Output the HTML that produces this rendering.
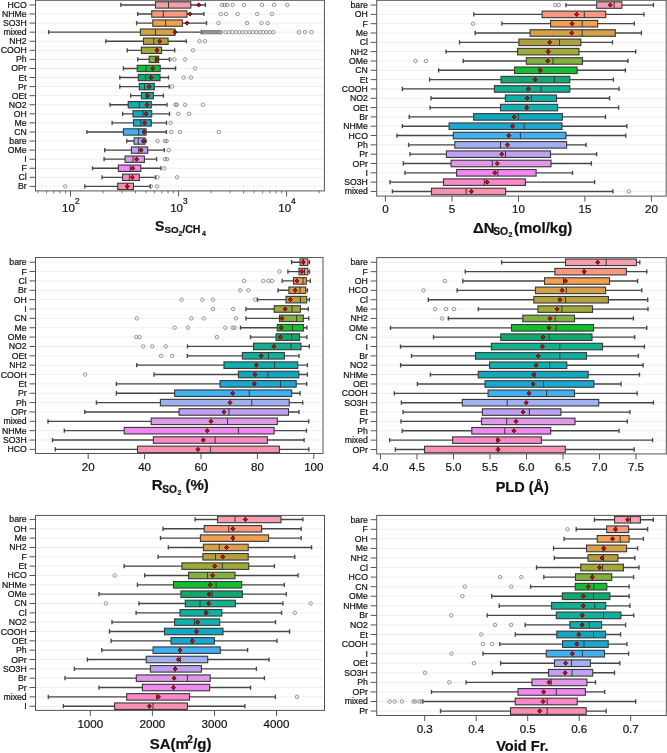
<!DOCTYPE html>
<html><head><meta charset="utf-8"><style>
html,body{margin:0;padding:0;background:#fff;width:667px;height:753px;overflow:hidden}
svg{display:block;will-change:transform}
text{font-family:"Liberation Sans",sans-serif;stroke:#1a1a1a;stroke-width:0.22px}
</style></head><body>
<svg width="667" height="753" viewBox="0 0 667 753">
<rect width="667" height="753" fill="#fff"/>
<line x1="35.5" y1="4.95" x2="324.4" y2="4.95" stroke="#ebebeb" stroke-width="0.8"/>
<line x1="35.5" y1="14.02" x2="324.4" y2="14.02" stroke="#ebebeb" stroke-width="0.8"/>
<line x1="35.5" y1="23.1" x2="324.4" y2="23.1" stroke="#ebebeb" stroke-width="0.8"/>
<line x1="35.5" y1="32.17" x2="324.4" y2="32.17" stroke="#ebebeb" stroke-width="0.8"/>
<line x1="35.5" y1="41.24" x2="324.4" y2="41.24" stroke="#ebebeb" stroke-width="0.8"/>
<line x1="35.5" y1="50.31" x2="324.4" y2="50.31" stroke="#ebebeb" stroke-width="0.8"/>
<line x1="35.5" y1="59.39" x2="324.4" y2="59.39" stroke="#ebebeb" stroke-width="0.8"/>
<line x1="35.5" y1="68.46" x2="324.4" y2="68.46" stroke="#ebebeb" stroke-width="0.8"/>
<line x1="35.5" y1="77.53" x2="324.4" y2="77.53" stroke="#ebebeb" stroke-width="0.8"/>
<line x1="35.5" y1="86.6" x2="324.4" y2="86.6" stroke="#ebebeb" stroke-width="0.8"/>
<line x1="35.5" y1="95.68" x2="324.4" y2="95.68" stroke="#ebebeb" stroke-width="0.8"/>
<line x1="35.5" y1="104.75" x2="324.4" y2="104.75" stroke="#ebebeb" stroke-width="0.8"/>
<line x1="35.5" y1="113.82" x2="324.4" y2="113.82" stroke="#ebebeb" stroke-width="0.8"/>
<line x1="35.5" y1="122.89" x2="324.4" y2="122.89" stroke="#ebebeb" stroke-width="0.8"/>
<line x1="35.5" y1="131.97" x2="324.4" y2="131.97" stroke="#ebebeb" stroke-width="0.8"/>
<line x1="35.5" y1="141.04" x2="324.4" y2="141.04" stroke="#ebebeb" stroke-width="0.8"/>
<line x1="35.5" y1="150.11" x2="324.4" y2="150.11" stroke="#ebebeb" stroke-width="0.8"/>
<line x1="35.5" y1="159.18" x2="324.4" y2="159.18" stroke="#ebebeb" stroke-width="0.8"/>
<line x1="35.5" y1="168.25" x2="324.4" y2="168.25" stroke="#ebebeb" stroke-width="0.8"/>
<line x1="35.5" y1="177.33" x2="324.4" y2="177.33" stroke="#ebebeb" stroke-width="0.8"/>
<line x1="35.5" y1="186.4" x2="324.4" y2="186.4" stroke="#ebebeb" stroke-width="0.8"/>
<path d="M120.9 4.95H155.5M190.8 4.95H205.4M120.9 2.86V7.04M205.4 2.86V7.04" stroke="#474747" stroke-width="1.35" fill="none"/>
<rect x="155.5" y="1.77" width="35.3" height="6.35" fill="#f59eae" stroke="#383838" stroke-width="1.1"/>
<line x1="168.5" y1="1.77" x2="168.5" y2="8.13" stroke="#383838" stroke-width="1.0"/>
<circle cx="221.9" cy="4.95" r="1.75" fill="none" stroke="#7c7c7c" stroke-width="0.8"/>
<circle cx="224.5" cy="4.95" r="1.75" fill="none" stroke="#7c7c7c" stroke-width="0.8"/>
<circle cx="227.1" cy="4.95" r="1.75" fill="none" stroke="#7c7c7c" stroke-width="0.8"/>
<circle cx="232.6" cy="4.95" r="1.75" fill="none" stroke="#7c7c7c" stroke-width="0.8"/>
<circle cx="244.1" cy="4.95" r="1.75" fill="none" stroke="#7c7c7c" stroke-width="0.8"/>
<circle cx="262" cy="4.95" r="1.75" fill="none" stroke="#7c7c7c" stroke-width="0.8"/>
<circle cx="274.1" cy="4.95" r="1.75" fill="none" stroke="#7c7c7c" stroke-width="0.8"/>
<circle cx="287.2" cy="4.95" r="1.75" fill="none" stroke="#7c7c7c" stroke-width="0.8"/>
<path d="M196.7 4.95L198.7 2.85L200.7 4.95L198.7 7.05Z" fill="#f00000" stroke="#1a0000" stroke-width="0.8"/>
<path d="M137.7 14.02H151.7M187 14.02H203.9M137.7 11.93V16.11M203.9 11.93V16.11" stroke="#474747" stroke-width="1.35" fill="none"/>
<rect x="151.7" y="10.85" width="35.3" height="6.35" fill="#f89880" stroke="#383838" stroke-width="1.1"/>
<line x1="163.3" y1="10.85" x2="163.3" y2="17.2" stroke="#383838" stroke-width="1.0"/>
<circle cx="220.7" cy="14.02" r="1.75" fill="none" stroke="#7c7c7c" stroke-width="0.8"/>
<circle cx="226.1" cy="14.02" r="1.75" fill="none" stroke="#7c7c7c" stroke-width="0.8"/>
<circle cx="237.6" cy="14.02" r="1.75" fill="none" stroke="#7c7c7c" stroke-width="0.8"/>
<circle cx="257.2" cy="14.02" r="1.75" fill="none" stroke="#7c7c7c" stroke-width="0.8"/>
<circle cx="272" cy="14.02" r="1.75" fill="none" stroke="#7c7c7c" stroke-width="0.8"/>
<path d="M188 14.02L190 11.92L192 14.02L190 16.12Z" fill="#f00000" stroke="#1a0000" stroke-width="0.8"/>
<path d="M136.6 23.1H152.8M182.4 23.1H206.5M136.6 21.01V25.18M206.5 21.01V25.18" stroke="#474747" stroke-width="1.35" fill="none"/>
<rect x="152.8" y="19.92" width="29.6" height="6.35" fill="#f0a050" stroke="#383838" stroke-width="1.1"/>
<line x1="165.6" y1="19.92" x2="165.6" y2="26.27" stroke="#383838" stroke-width="1.0"/>
<circle cx="218.5" cy="23.1" r="1.75" fill="none" stroke="#7c7c7c" stroke-width="0.8"/>
<circle cx="247" cy="23.1" r="1.75" fill="none" stroke="#7c7c7c" stroke-width="0.8"/>
<circle cx="261.5" cy="23.1" r="1.75" fill="none" stroke="#7c7c7c" stroke-width="0.8"/>
<circle cx="267.6" cy="23.1" r="1.75" fill="none" stroke="#7c7c7c" stroke-width="0.8"/>
<path d="M185.1 23.1L187.1 21L189.1 23.1L187.1 25.2Z" fill="#f00000" stroke="#1a0000" stroke-width="0.8"/>
<path d="M48.6 32.17H140.4M175 32.17H201.7M48.6 30.08V34.26M201.7 30.08V34.26" stroke="#474747" stroke-width="1.35" fill="none"/>
<rect x="140.4" y="28.99" width="34.6" height="6.35" fill="#d4a048" stroke="#383838" stroke-width="1.1"/>
<line x1="155.5" y1="28.99" x2="155.5" y2="35.34" stroke="#383838" stroke-width="1.0"/>
<circle cx="201.7" cy="32.17" r="1.75" fill="none" stroke="#7c7c7c" stroke-width="0.8"/>
<circle cx="203" cy="32.17" r="1.75" fill="none" stroke="#7c7c7c" stroke-width="0.8"/>
<circle cx="204.3" cy="32.17" r="1.75" fill="none" stroke="#7c7c7c" stroke-width="0.8"/>
<circle cx="205.6" cy="32.17" r="1.75" fill="none" stroke="#7c7c7c" stroke-width="0.8"/>
<circle cx="206.9" cy="32.17" r="1.75" fill="none" stroke="#7c7c7c" stroke-width="0.8"/>
<circle cx="208.2" cy="32.17" r="1.75" fill="none" stroke="#7c7c7c" stroke-width="0.8"/>
<circle cx="209.5" cy="32.17" r="1.75" fill="none" stroke="#7c7c7c" stroke-width="0.8"/>
<circle cx="210.8" cy="32.17" r="1.75" fill="none" stroke="#7c7c7c" stroke-width="0.8"/>
<circle cx="212.1" cy="32.17" r="1.75" fill="none" stroke="#7c7c7c" stroke-width="0.8"/>
<circle cx="213.4" cy="32.17" r="1.75" fill="none" stroke="#7c7c7c" stroke-width="0.8"/>
<circle cx="214.7" cy="32.17" r="1.75" fill="none" stroke="#7c7c7c" stroke-width="0.8"/>
<circle cx="216" cy="32.17" r="1.75" fill="none" stroke="#7c7c7c" stroke-width="0.8"/>
<circle cx="217.3" cy="32.17" r="1.75" fill="none" stroke="#7c7c7c" stroke-width="0.8"/>
<circle cx="218.6" cy="32.17" r="1.75" fill="none" stroke="#7c7c7c" stroke-width="0.8"/>
<circle cx="219.9" cy="32.17" r="1.75" fill="none" stroke="#7c7c7c" stroke-width="0.8"/>
<circle cx="221.2" cy="32.17" r="1.75" fill="none" stroke="#7c7c7c" stroke-width="0.8"/>
<circle cx="225.7" cy="32.17" r="1.75" fill="none" stroke="#7c7c7c" stroke-width="0.8"/>
<circle cx="229.1" cy="32.17" r="1.75" fill="none" stroke="#7c7c7c" stroke-width="0.8"/>
<circle cx="232.5" cy="32.17" r="1.75" fill="none" stroke="#7c7c7c" stroke-width="0.8"/>
<circle cx="235.9" cy="32.17" r="1.75" fill="none" stroke="#7c7c7c" stroke-width="0.8"/>
<circle cx="239.3" cy="32.17" r="1.75" fill="none" stroke="#7c7c7c" stroke-width="0.8"/>
<circle cx="242.7" cy="32.17" r="1.75" fill="none" stroke="#7c7c7c" stroke-width="0.8"/>
<circle cx="246.1" cy="32.17" r="1.75" fill="none" stroke="#7c7c7c" stroke-width="0.8"/>
<circle cx="249.5" cy="32.17" r="1.75" fill="none" stroke="#7c7c7c" stroke-width="0.8"/>
<circle cx="252.9" cy="32.17" r="1.75" fill="none" stroke="#7c7c7c" stroke-width="0.8"/>
<circle cx="256.3" cy="32.17" r="1.75" fill="none" stroke="#7c7c7c" stroke-width="0.8"/>
<circle cx="259.7" cy="32.17" r="1.75" fill="none" stroke="#7c7c7c" stroke-width="0.8"/>
<circle cx="263.1" cy="32.17" r="1.75" fill="none" stroke="#7c7c7c" stroke-width="0.8"/>
<circle cx="266.5" cy="32.17" r="1.75" fill="none" stroke="#7c7c7c" stroke-width="0.8"/>
<circle cx="269.9" cy="32.17" r="1.75" fill="none" stroke="#7c7c7c" stroke-width="0.8"/>
<circle cx="273.3" cy="32.17" r="1.75" fill="none" stroke="#7c7c7c" stroke-width="0.8"/>
<circle cx="298.9" cy="32.17" r="1.75" fill="none" stroke="#7c7c7c" stroke-width="0.8"/>
<circle cx="305" cy="32.17" r="1.75" fill="none" stroke="#7c7c7c" stroke-width="0.8"/>
<circle cx="311.5" cy="32.17" r="1.75" fill="none" stroke="#7c7c7c" stroke-width="0.8"/>
<path d="M173 32.17L175 30.07L177 32.17L175 34.27Z" fill="#f00000" stroke="#1a0000" stroke-width="0.8"/>
<path d="M105.8 41.24H143.5M168.1 41.24H186.3M105.8 39.15V43.33M186.3 39.15V43.33" stroke="#474747" stroke-width="1.35" fill="none"/>
<rect x="143.5" y="38.06" width="24.6" height="6.35" fill="#b0a040" stroke="#383838" stroke-width="1.1"/>
<line x1="153.8" y1="38.06" x2="153.8" y2="44.42" stroke="#383838" stroke-width="1.0"/>
<circle cx="199.5" cy="41.24" r="1.75" fill="none" stroke="#7c7c7c" stroke-width="0.8"/>
<circle cx="204.9" cy="41.24" r="1.75" fill="none" stroke="#7c7c7c" stroke-width="0.8"/>
<path d="M157.7 41.24L159.7 39.14L161.7 41.24L159.7 43.34Z" fill="#f00000" stroke="#1a0000" stroke-width="0.8"/>
<path d="M127.2 50.31H141.4M161.6 50.31H174.7M127.2 48.22V52.4M174.7 48.22V52.4" stroke="#474747" stroke-width="1.35" fill="none"/>
<rect x="141.4" y="47.14" width="20.2" height="6.35" fill="#a0a838" stroke="#383838" stroke-width="1.1"/>
<line x1="157" y1="47.14" x2="157" y2="53.49" stroke="#383838" stroke-width="1.0"/>
<circle cx="193" cy="50.31" r="1.75" fill="none" stroke="#7c7c7c" stroke-width="0.8"/>
<path d="M155 50.31L157 48.21L159 50.31L157 52.41Z" fill="#f00000" stroke="#1a0000" stroke-width="0.8"/>
<path d="M137.7 59.39H149.2M158.7 59.39H169.5M137.7 57.3V61.47M169.5 57.3V61.47" stroke="#474747" stroke-width="1.35" fill="none"/>
<rect x="149.2" y="56.21" width="9.5" height="6.35" fill="#80b040" stroke="#383838" stroke-width="1.1"/>
<line x1="155.5" y1="56.21" x2="155.5" y2="62.56" stroke="#383838" stroke-width="1.0"/>
<circle cx="170.1" cy="59.39" r="1.75" fill="none" stroke="#7c7c7c" stroke-width="0.8"/>
<circle cx="174.4" cy="59.39" r="1.75" fill="none" stroke="#7c7c7c" stroke-width="0.8"/>
<circle cx="185.2" cy="59.39" r="1.75" fill="none" stroke="#7c7c7c" stroke-width="0.8"/>
<path d="M155 59.39L157 57.29L159 59.39L157 61.49Z" fill="#f00000" stroke="#1a0000" stroke-width="0.8"/>
<path d="M123.4 68.46H137.2M160.2 68.46H175.6M123.4 66.37V70.55M175.6 66.37V70.55" stroke="#474747" stroke-width="1.35" fill="none"/>
<rect x="137.2" y="65.28" width="23" height="6.35" fill="#10c030" stroke="#383838" stroke-width="1.1"/>
<line x1="146" y1="65.28" x2="146" y2="71.63" stroke="#383838" stroke-width="1.0"/>
<circle cx="195.2" cy="68.46" r="1.75" fill="none" stroke="#7c7c7c" stroke-width="0.8"/>
<path d="M150.7 68.46L152.7 66.36L154.7 68.46L152.7 70.56Z" fill="#f00000" stroke="#1a0000" stroke-width="0.8"/>
<path d="M119.8 77.53H138.3M160 77.53H168.5M119.8 75.44V79.62M168.5 75.44V79.62" stroke="#474747" stroke-width="1.35" fill="none"/>
<rect x="138.3" y="74.35" width="21.7" height="6.35" fill="#10a870" stroke="#383838" stroke-width="1.1"/>
<line x1="145.6" y1="74.35" x2="145.6" y2="80.71" stroke="#383838" stroke-width="1.0"/>
<circle cx="183.6" cy="77.53" r="1.75" fill="none" stroke="#7c7c7c" stroke-width="0.8"/>
<circle cx="191" cy="77.53" r="1.75" fill="none" stroke="#7c7c7c" stroke-width="0.8"/>
<path d="M149 77.53L151 75.43L153 77.53L151 79.63Z" fill="#f00000" stroke="#1a0000" stroke-width="0.8"/>
<path d="M119.8 86.6H139.3M154.3 86.6H169.2M119.8 84.51V88.69M169.2 84.51V88.69" stroke="#474747" stroke-width="1.35" fill="none"/>
<rect x="139.3" y="83.43" width="15" height="6.35" fill="#10b090" stroke="#383838" stroke-width="1.1"/>
<line x1="144.6" y1="83.43" x2="144.6" y2="89.78" stroke="#383838" stroke-width="1.0"/>
<circle cx="172.1" cy="86.6" r="1.75" fill="none" stroke="#7c7c7c" stroke-width="0.8"/>
<path d="M147.2 86.6L149.2 84.5L151.2 86.6L149.2 88.7Z" fill="#f00000" stroke="#1a0000" stroke-width="0.8"/>
<path d="M130.7 95.68H141.4M153.4 95.68H163.4M130.7 93.59V97.76M163.4 93.59V97.76" stroke="#474747" stroke-width="1.35" fill="none"/>
<rect x="141.4" y="92.5" width="12" height="6.35" fill="#10b0a0" stroke="#383838" stroke-width="1.1"/>
<line x1="146" y1="92.5" x2="146" y2="98.85" stroke="#383838" stroke-width="1.0"/>
<path d="M145.7 95.68L147.7 93.58L149.7 95.68L147.7 97.78Z" fill="#f00000" stroke="#1a0000" stroke-width="0.8"/>
<path d="M110 104.75H128.2M151.3 104.75H167M110 102.66V106.84M167 102.66V106.84" stroke="#474747" stroke-width="1.35" fill="none"/>
<rect x="128.2" y="101.57" width="23.1" height="6.35" fill="#10b0b0" stroke="#383838" stroke-width="1.1"/>
<line x1="139.3" y1="101.57" x2="139.3" y2="107.92" stroke="#383838" stroke-width="1.0"/>
<circle cx="175.5" cy="104.75" r="1.75" fill="none" stroke="#7c7c7c" stroke-width="0.8"/>
<circle cx="176.8" cy="104.75" r="1.75" fill="none" stroke="#7c7c7c" stroke-width="0.8"/>
<circle cx="185.1" cy="104.75" r="1.75" fill="none" stroke="#7c7c7c" stroke-width="0.8"/>
<circle cx="202.8" cy="104.75" r="1.75" fill="none" stroke="#7c7c7c" stroke-width="0.8"/>
<path d="M145.1 104.75L147.1 102.65L149.1 104.75L147.1 106.85Z" fill="#f00000" stroke="#1a0000" stroke-width="0.8"/>
<path d="M122.6 113.82H133M151.7 113.82H169.5M122.6 111.73V115.91M169.5 111.73V115.91" stroke="#474747" stroke-width="1.35" fill="none"/>
<rect x="133" y="110.64" width="18.7" height="6.35" fill="#10a8c0" stroke="#383838" stroke-width="1.1"/>
<line x1="142.9" y1="110.64" x2="142.9" y2="117" stroke="#383838" stroke-width="1.0"/>
<circle cx="178.3" cy="113.82" r="1.75" fill="none" stroke="#7c7c7c" stroke-width="0.8"/>
<circle cx="189.1" cy="113.82" r="1.75" fill="none" stroke="#7c7c7c" stroke-width="0.8"/>
<path d="M144.1 113.82L146.1 111.72L148.1 113.82L146.1 115.92Z" fill="#f00000" stroke="#1a0000" stroke-width="0.8"/>
<path d="M112.1 122.89H133.5M151.3 122.89H166.5M112.1 120.8V124.98M166.5 120.8V124.98" stroke="#474747" stroke-width="1.35" fill="none"/>
<rect x="133.5" y="119.72" width="17.8" height="6.35" fill="#18a8d0" stroke="#383838" stroke-width="1.1"/>
<line x1="140.8" y1="119.72" x2="140.8" y2="126.07" stroke="#383838" stroke-width="1.0"/>
<circle cx="170.6" cy="122.89" r="1.75" fill="none" stroke="#7c7c7c" stroke-width="0.8"/>
<path d="M142.6 122.89L144.6 120.79L146.6 122.89L144.6 124.99Z" fill="#f00000" stroke="#1a0000" stroke-width="0.8"/>
<path d="M86.9 131.97H123.4M146.1 131.97H166.4M86.9 129.88V134.05M166.4 129.88V134.05" stroke="#474747" stroke-width="1.35" fill="none"/>
<rect x="123.4" y="128.79" width="22.7" height="6.35" fill="#40b0f0" stroke="#383838" stroke-width="1.1"/>
<line x1="138.7" y1="128.79" x2="138.7" y2="135.14" stroke="#383838" stroke-width="1.0"/>
<circle cx="171.4" cy="131.97" r="1.75" fill="none" stroke="#7c7c7c" stroke-width="0.8"/>
<circle cx="180" cy="131.97" r="1.75" fill="none" stroke="#7c7c7c" stroke-width="0.8"/>
<circle cx="219" cy="131.97" r="1.75" fill="none" stroke="#7c7c7c" stroke-width="0.8"/>
<path d="M142 131.97L144 129.87L146 131.97L144 134.06Z" fill="#f00000" stroke="#1a0000" stroke-width="0.8"/>
<path d="M126.8 141.04H134.1M145 141.04H146.1M126.8 138.95V143.13M146.1 138.95V143.13" stroke="#474747" stroke-width="1.35" fill="none"/>
<rect x="134.1" y="137.86" width="10.9" height="6.35" fill="#a0b0f0" stroke="#383838" stroke-width="1.1"/>
<line x1="138.3" y1="137.86" x2="138.3" y2="144.21" stroke="#383838" stroke-width="1.0"/>
<circle cx="157.6" cy="141.04" r="1.75" fill="none" stroke="#7c7c7c" stroke-width="0.8"/>
<circle cx="165" cy="141.04" r="1.75" fill="none" stroke="#7c7c7c" stroke-width="0.8"/>
<circle cx="166.6" cy="141.04" r="1.75" fill="none" stroke="#7c7c7c" stroke-width="0.8"/>
<path d="M141.3 141.04L143.3 138.94L145.3 141.04L143.3 143.14Z" fill="#f00000" stroke="#1a0000" stroke-width="0.8"/>
<path d="M104.7 150.11H131.4M147.7 150.11H164.3M104.7 148.02V152.2M164.3 148.02V152.2" stroke="#474747" stroke-width="1.35" fill="none"/>
<rect x="131.4" y="146.93" width="16.3" height="6.35" fill="#c0a0f0" stroke="#383838" stroke-width="1.1"/>
<line x1="138.7" y1="146.93" x2="138.7" y2="153.29" stroke="#383838" stroke-width="1.0"/>
<circle cx="168.7" cy="150.11" r="1.75" fill="none" stroke="#7c7c7c" stroke-width="0.8"/>
<path d="M139.2 150.11L141.2 148.01L143.2 150.11L141.2 152.21Z" fill="#f00000" stroke="#1a0000" stroke-width="0.8"/>
<path d="M104.1 159.18H125.1M144.4 159.18H156.6M104.1 157.09V161.27M156.6 157.09V161.27" stroke="#474747" stroke-width="1.35" fill="none"/>
<rect x="125.1" y="156.01" width="19.3" height="6.35" fill="#e098e8" stroke="#383838" stroke-width="1.1"/>
<line x1="133" y1="156.01" x2="133" y2="162.36" stroke="#383838" stroke-width="1.0"/>
<circle cx="165" cy="159.18" r="1.75" fill="none" stroke="#7c7c7c" stroke-width="0.8"/>
<circle cx="167.1" cy="159.18" r="1.75" fill="none" stroke="#7c7c7c" stroke-width="0.8"/>
<path d="M134.6 159.18L136.6 157.08L138.6 159.18L136.6 161.28Z" fill="#f00000" stroke="#1a0000" stroke-width="0.8"/>
<path d="M92.5 168.25H118.4M140.8 168.25H160.8M92.5 166.17V170.34M160.8 166.17V170.34" stroke="#474747" stroke-width="1.35" fill="none"/>
<rect x="118.4" y="165.08" width="22.4" height="6.35" fill="#f088f0" stroke="#383838" stroke-width="1.1"/>
<line x1="130.3" y1="165.08" x2="130.3" y2="171.43" stroke="#383838" stroke-width="1.0"/>
<circle cx="164.3" cy="168.25" r="1.75" fill="none" stroke="#7c7c7c" stroke-width="0.8"/>
<path d="M130.8 168.25L132.8 166.16L134.8 168.25L132.8 170.35Z" fill="#f00000" stroke="#1a0000" stroke-width="0.8"/>
<path d="M102 177.33H122.6M139.3 177.33H155.5M102 175.24V179.42M155.5 175.24V179.42" stroke="#474747" stroke-width="1.35" fill="none"/>
<rect x="122.6" y="174.15" width="16.7" height="6.35" fill="#f888c8" stroke="#383838" stroke-width="1.1"/>
<line x1="129.3" y1="174.15" x2="129.3" y2="180.5" stroke="#383838" stroke-width="1.0"/>
<circle cx="157.6" cy="177.33" r="1.75" fill="none" stroke="#7c7c7c" stroke-width="0.8"/>
<circle cx="177.1" cy="177.33" r="1.75" fill="none" stroke="#7c7c7c" stroke-width="0.8"/>
<path d="M130.4 177.33L132.4 175.23L134.4 177.33L132.4 179.43Z" fill="#f00000" stroke="#1a0000" stroke-width="0.8"/>
<path d="M84.8 186.4H117.7M133.5 186.4H150.3M84.8 184.31V188.49M150.3 184.31V188.49" stroke="#474747" stroke-width="1.35" fill="none"/>
<rect x="117.7" y="183.22" width="15.8" height="6.35" fill="#f890b0" stroke="#383838" stroke-width="1.1"/>
<line x1="127.2" y1="183.22" x2="127.2" y2="189.58" stroke="#383838" stroke-width="1.0"/>
<circle cx="65.2" cy="186.4" r="1.75" fill="none" stroke="#7c7c7c" stroke-width="0.8"/>
<circle cx="150.9" cy="186.4" r="1.75" fill="none" stroke="#7c7c7c" stroke-width="0.8"/>
<circle cx="157.2" cy="186.4" r="1.75" fill="none" stroke="#7c7c7c" stroke-width="0.8"/>
<path d="M125.2 186.4L127.2 184.3L129.2 186.4L127.2 188.5Z" fill="#f00000" stroke="#1a0000" stroke-width="0.8"/>
<rect x="35.5" y="0.3" width="288.9" height="190.6" fill="none" stroke="#555555" stroke-width="1.0"/>
<line x1="29.5" y1="4.95" x2="35.5" y2="4.95" stroke="#555555" stroke-width="1"/>
<text x="26.7" y="7.95" text-anchor="end" font-size="8.7" fill="#111">HCO</text>
<line x1="29.5" y1="14.02" x2="35.5" y2="14.02" stroke="#555555" stroke-width="1"/>
<text x="26.7" y="17.02" text-anchor="end" font-size="8.7" fill="#111">NHMe</text>
<line x1="29.5" y1="23.1" x2="35.5" y2="23.1" stroke="#555555" stroke-width="1"/>
<text x="26.7" y="26.1" text-anchor="end" font-size="8.7" fill="#111">SO3H</text>
<line x1="29.5" y1="32.17" x2="35.5" y2="32.17" stroke="#555555" stroke-width="1"/>
<text x="26.7" y="35.17" text-anchor="end" font-size="8.7" fill="#111">mixed</text>
<line x1="29.5" y1="41.24" x2="35.5" y2="41.24" stroke="#555555" stroke-width="1"/>
<text x="26.7" y="44.24" text-anchor="end" font-size="8.7" fill="#111">NH2</text>
<line x1="29.5" y1="50.31" x2="35.5" y2="50.31" stroke="#555555" stroke-width="1"/>
<text x="26.7" y="53.31" text-anchor="end" font-size="8.7" fill="#111">COOH</text>
<line x1="29.5" y1="59.39" x2="35.5" y2="59.39" stroke="#555555" stroke-width="1"/>
<text x="26.7" y="62.39" text-anchor="end" font-size="8.7" fill="#111">Ph</text>
<line x1="29.5" y1="68.46" x2="35.5" y2="68.46" stroke="#555555" stroke-width="1"/>
<text x="26.7" y="71.46" text-anchor="end" font-size="8.7" fill="#111">OPr</text>
<line x1="29.5" y1="77.53" x2="35.5" y2="77.53" stroke="#555555" stroke-width="1"/>
<text x="26.7" y="80.53" text-anchor="end" font-size="8.7" fill="#111">Et</text>
<line x1="29.5" y1="86.6" x2="35.5" y2="86.6" stroke="#555555" stroke-width="1"/>
<text x="26.7" y="89.6" text-anchor="end" font-size="8.7" fill="#111">Pr</text>
<line x1="29.5" y1="95.68" x2="35.5" y2="95.68" stroke="#555555" stroke-width="1"/>
<text x="26.7" y="98.68" text-anchor="end" font-size="8.7" fill="#111">OEt</text>
<line x1="29.5" y1="104.75" x2="35.5" y2="104.75" stroke="#555555" stroke-width="1"/>
<text x="26.7" y="107.75" text-anchor="end" font-size="8.7" fill="#111">NO2</text>
<line x1="29.5" y1="113.82" x2="35.5" y2="113.82" stroke="#555555" stroke-width="1"/>
<text x="26.7" y="116.82" text-anchor="end" font-size="8.7" fill="#111">OH</text>
<line x1="29.5" y1="122.89" x2="35.5" y2="122.89" stroke="#555555" stroke-width="1"/>
<text x="26.7" y="125.89" text-anchor="end" font-size="8.7" fill="#111">Me</text>
<line x1="29.5" y1="131.97" x2="35.5" y2="131.97" stroke="#555555" stroke-width="1"/>
<text x="26.7" y="134.97" text-anchor="end" font-size="8.7" fill="#111">CN</text>
<line x1="29.5" y1="141.04" x2="35.5" y2="141.04" stroke="#555555" stroke-width="1"/>
<text x="26.7" y="144.04" text-anchor="end" font-size="8.7" fill="#111">bare</text>
<line x1="29.5" y1="150.11" x2="35.5" y2="150.11" stroke="#555555" stroke-width="1"/>
<text x="26.7" y="153.11" text-anchor="end" font-size="8.7" fill="#111">OMe</text>
<line x1="29.5" y1="159.18" x2="35.5" y2="159.18" stroke="#555555" stroke-width="1"/>
<text x="26.7" y="162.18" text-anchor="end" font-size="8.7" fill="#111">I</text>
<line x1="29.5" y1="168.25" x2="35.5" y2="168.25" stroke="#555555" stroke-width="1"/>
<text x="26.7" y="171.25" text-anchor="end" font-size="8.7" fill="#111">F</text>
<line x1="29.5" y1="177.33" x2="35.5" y2="177.33" stroke="#555555" stroke-width="1"/>
<text x="26.7" y="180.33" text-anchor="end" font-size="8.7" fill="#111">Cl</text>
<line x1="29.5" y1="186.4" x2="35.5" y2="186.4" stroke="#555555" stroke-width="1"/>
<text x="26.7" y="189.4" text-anchor="end" font-size="8.7" fill="#111">Br</text>
<line x1="70.5" y1="190.9" x2="70.5" y2="196.4" stroke="#555555" stroke-width="1"/>
<text x="70.9" y="211.7" text-anchor="middle" font-size="11.6" fill="#111">10<tspan dy="-8.2" font-size="8.4">2</tspan></text>
<line x1="178.55" y1="190.9" x2="178.55" y2="196.4" stroke="#555555" stroke-width="1"/>
<text x="178.95" y="211.7" text-anchor="middle" font-size="11.6" fill="#111">10<tspan dy="-8.2" font-size="8.4">3</tspan></text>
<line x1="286.6" y1="190.9" x2="286.6" y2="196.4" stroke="#555555" stroke-width="1"/>
<text x="287" y="211.7" text-anchor="middle" font-size="11.6" fill="#111">10<tspan dy="-8.2" font-size="8.4">4</tspan></text>
<line x1="37.97" y1="190.9" x2="37.97" y2="193.4" stroke="#555555" stroke-width="0.8"/>
<line x1="46.53" y1="190.9" x2="46.53" y2="193.4" stroke="#555555" stroke-width="0.8"/>
<line x1="53.76" y1="190.9" x2="53.76" y2="193.4" stroke="#555555" stroke-width="0.8"/>
<line x1="60.03" y1="190.9" x2="60.03" y2="193.4" stroke="#555555" stroke-width="0.8"/>
<line x1="65.56" y1="190.9" x2="65.56" y2="193.4" stroke="#555555" stroke-width="0.8"/>
<line x1="103.03" y1="190.9" x2="103.03" y2="193.4" stroke="#555555" stroke-width="0.8"/>
<line x1="122.05" y1="190.9" x2="122.05" y2="193.4" stroke="#555555" stroke-width="0.8"/>
<line x1="135.55" y1="190.9" x2="135.55" y2="193.4" stroke="#555555" stroke-width="0.8"/>
<line x1="146.02" y1="190.9" x2="146.02" y2="193.4" stroke="#555555" stroke-width="0.8"/>
<line x1="154.58" y1="190.9" x2="154.58" y2="193.4" stroke="#555555" stroke-width="0.8"/>
<line x1="161.81" y1="190.9" x2="161.81" y2="193.4" stroke="#555555" stroke-width="0.8"/>
<line x1="168.08" y1="190.9" x2="168.08" y2="193.4" stroke="#555555" stroke-width="0.8"/>
<line x1="173.61" y1="190.9" x2="173.61" y2="193.4" stroke="#555555" stroke-width="0.8"/>
<line x1="211.08" y1="190.9" x2="211.08" y2="193.4" stroke="#555555" stroke-width="0.8"/>
<line x1="230.1" y1="190.9" x2="230.1" y2="193.4" stroke="#555555" stroke-width="0.8"/>
<line x1="243.6" y1="190.9" x2="243.6" y2="193.4" stroke="#555555" stroke-width="0.8"/>
<line x1="254.07" y1="190.9" x2="254.07" y2="193.4" stroke="#555555" stroke-width="0.8"/>
<line x1="262.63" y1="190.9" x2="262.63" y2="193.4" stroke="#555555" stroke-width="0.8"/>
<line x1="269.86" y1="190.9" x2="269.86" y2="193.4" stroke="#555555" stroke-width="0.8"/>
<line x1="276.13" y1="190.9" x2="276.13" y2="193.4" stroke="#555555" stroke-width="0.8"/>
<line x1="281.66" y1="190.9" x2="281.66" y2="193.4" stroke="#555555" stroke-width="0.8"/>
<line x1="319.13" y1="190.9" x2="319.13" y2="193.4" stroke="#555555" stroke-width="0.8"/>
<text x="155" y="230.6" font-weight="bold" font-size="14" fill="#111">S</text><text x="164.4" y="233.4" font-weight="bold" font-size="9.8" fill="#111">SO</text><text x="178.6" y="236.2" font-weight="bold" font-size="6.9" fill="#111">2</text><text x="182.2" y="233.4" font-weight="bold" font-size="10.6" fill="#111">/CH</text><text x="202.0" y="236.2" font-weight="bold" font-size="6.9" fill="#111">4</text>
<line x1="376.7" y1="5.05" x2="666.2" y2="5.05" stroke="#ebebeb" stroke-width="0.8"/>
<line x1="376.7" y1="14.37" x2="666.2" y2="14.37" stroke="#ebebeb" stroke-width="0.8"/>
<line x1="376.7" y1="23.69" x2="666.2" y2="23.69" stroke="#ebebeb" stroke-width="0.8"/>
<line x1="376.7" y1="33.01" x2="666.2" y2="33.01" stroke="#ebebeb" stroke-width="0.8"/>
<line x1="376.7" y1="42.33" x2="666.2" y2="42.33" stroke="#ebebeb" stroke-width="0.8"/>
<line x1="376.7" y1="51.65" x2="666.2" y2="51.65" stroke="#ebebeb" stroke-width="0.8"/>
<line x1="376.7" y1="60.97" x2="666.2" y2="60.97" stroke="#ebebeb" stroke-width="0.8"/>
<line x1="376.7" y1="70.29" x2="666.2" y2="70.29" stroke="#ebebeb" stroke-width="0.8"/>
<line x1="376.7" y1="79.61" x2="666.2" y2="79.61" stroke="#ebebeb" stroke-width="0.8"/>
<line x1="376.7" y1="88.93" x2="666.2" y2="88.93" stroke="#ebebeb" stroke-width="0.8"/>
<line x1="376.7" y1="98.25" x2="666.2" y2="98.25" stroke="#ebebeb" stroke-width="0.8"/>
<line x1="376.7" y1="107.58" x2="666.2" y2="107.58" stroke="#ebebeb" stroke-width="0.8"/>
<line x1="376.7" y1="116.9" x2="666.2" y2="116.9" stroke="#ebebeb" stroke-width="0.8"/>
<line x1="376.7" y1="126.22" x2="666.2" y2="126.22" stroke="#ebebeb" stroke-width="0.8"/>
<line x1="376.7" y1="135.54" x2="666.2" y2="135.54" stroke="#ebebeb" stroke-width="0.8"/>
<line x1="376.7" y1="144.86" x2="666.2" y2="144.86" stroke="#ebebeb" stroke-width="0.8"/>
<line x1="376.7" y1="154.18" x2="666.2" y2="154.18" stroke="#ebebeb" stroke-width="0.8"/>
<line x1="376.7" y1="163.5" x2="666.2" y2="163.5" stroke="#ebebeb" stroke-width="0.8"/>
<line x1="376.7" y1="172.82" x2="666.2" y2="172.82" stroke="#ebebeb" stroke-width="0.8"/>
<line x1="376.7" y1="182.14" x2="666.2" y2="182.14" stroke="#ebebeb" stroke-width="0.8"/>
<line x1="376.7" y1="191.46" x2="666.2" y2="191.46" stroke="#ebebeb" stroke-width="0.8"/>
<path d="M565.9 5.05H596.7M621.9 5.05H653.4M565.9 2.91V7.19M653.4 2.91V7.19" stroke="#474747" stroke-width="1.35" fill="none"/>
<rect x="596.7" y="1.79" width="25.2" height="6.53" fill="#f59eae" stroke="#383838" stroke-width="1.1"/>
<line x1="614.1" y1="1.79" x2="614.1" y2="8.31" stroke="#383838" stroke-width="1.0"/>
<circle cx="555.2" cy="5.05" r="1.75" fill="none" stroke="#7c7c7c" stroke-width="0.8"/>
<circle cx="558.8" cy="5.05" r="1.75" fill="none" stroke="#7c7c7c" stroke-width="0.8"/>
<path d="M608.3 5.05L610.3 2.95L612.3 5.05L610.3 7.15Z" fill="#f00000" stroke="#1a0000" stroke-width="0.8"/>
<path d="M473.8 14.37H542.1M605.7 14.37H643.9M473.8 12.23V16.51M643.9 12.23V16.51" stroke="#474747" stroke-width="1.35" fill="none"/>
<rect x="542.1" y="11.11" width="63.6" height="6.53" fill="#f89880" stroke="#383838" stroke-width="1.1"/>
<line x1="584.3" y1="11.11" x2="584.3" y2="17.63" stroke="#383838" stroke-width="1.0"/>
<path d="M574.7 14.37L576.7 12.27L578.7 14.37L576.7 16.47Z" fill="#f00000" stroke="#1a0000" stroke-width="0.8"/>
<path d="M501.9 23.69H550.6M597.7 23.69H634.3M501.9 21.55V25.84M634.3 21.55V25.84" stroke="#474747" stroke-width="1.35" fill="none"/>
<rect x="550.6" y="20.43" width="47.1" height="6.53" fill="#f0a050" stroke="#383838" stroke-width="1.1"/>
<line x1="582.2" y1="20.43" x2="582.2" y2="26.95" stroke="#383838" stroke-width="1.0"/>
<circle cx="473.1" cy="23.69" r="1.75" fill="none" stroke="#7c7c7c" stroke-width="0.8"/>
<path d="M570.1 23.69L572.1 21.59L574.1 23.69L572.1 25.79Z" fill="#f00000" stroke="#1a0000" stroke-width="0.8"/>
<path d="M475.2 33.01H530.1M615.3 33.01H641.4M475.2 30.87V35.16M641.4 30.87V35.16" stroke="#474747" stroke-width="1.35" fill="none"/>
<rect x="530.1" y="29.75" width="85.2" height="6.53" fill="#d4a048" stroke="#383838" stroke-width="1.1"/>
<line x1="582.2" y1="29.75" x2="582.2" y2="36.27" stroke="#383838" stroke-width="1.0"/>
<path d="M569.7 33.01L571.7 30.91L573.7 33.01L571.7 35.11Z" fill="#f00000" stroke="#1a0000" stroke-width="0.8"/>
<path d="M459.5 42.33H518.9M580.8 42.33H612.5M459.5 40.19V44.48M612.5 40.19V44.48" stroke="#474747" stroke-width="1.35" fill="none"/>
<rect x="518.9" y="39.07" width="61.9" height="6.53" fill="#b0a040" stroke="#383838" stroke-width="1.1"/>
<line x1="559.5" y1="39.07" x2="559.5" y2="45.6" stroke="#383838" stroke-width="1.0"/>
<path d="M547.7 42.33L549.7 40.23L551.7 42.33L549.7 44.43Z" fill="#f00000" stroke="#1a0000" stroke-width="0.8"/>
<path d="M446 51.65H517.6M579 51.65H635.7M446 49.51V53.8M635.7 49.51V53.8" stroke="#474747" stroke-width="1.35" fill="none"/>
<rect x="517.6" y="48.39" width="61.4" height="6.53" fill="#a0a838" stroke="#383838" stroke-width="1.1"/>
<line x1="548.5" y1="48.39" x2="548.5" y2="54.92" stroke="#383838" stroke-width="1.0"/>
<path d="M546.2 51.65L548.2 49.55L550.2 51.65L548.2 53.75Z" fill="#f00000" stroke="#1a0000" stroke-width="0.8"/>
<path d="M463.2 60.97H526.3M582.5 60.97H628M463.2 58.83V63.12M628 58.83V63.12" stroke="#474747" stroke-width="1.35" fill="none"/>
<rect x="526.3" y="57.71" width="56.2" height="6.53" fill="#80b040" stroke="#383838" stroke-width="1.1"/>
<line x1="553" y1="57.71" x2="553" y2="64.24" stroke="#383838" stroke-width="1.0"/>
<circle cx="415.5" cy="60.97" r="1.75" fill="none" stroke="#7c7c7c" stroke-width="0.8"/>
<circle cx="426" cy="60.97" r="1.75" fill="none" stroke="#7c7c7c" stroke-width="0.8"/>
<path d="M545.7 60.97L547.7 58.87L549.7 60.97L547.7 63.07Z" fill="#f00000" stroke="#1a0000" stroke-width="0.8"/>
<path d="M438.6 70.29H514.6M577.1 70.29H625.4M438.6 68.15V72.44M625.4 68.15V72.44" stroke="#474747" stroke-width="1.35" fill="none"/>
<rect x="514.6" y="67.03" width="62.5" height="6.53" fill="#10c030" stroke="#383838" stroke-width="1.1"/>
<line x1="539.3" y1="67.03" x2="539.3" y2="73.56" stroke="#383838" stroke-width="1.0"/>
<path d="M538.4 70.29L540.4 68.19L542.4 70.29L540.4 72.39Z" fill="#f00000" stroke="#1a0000" stroke-width="0.8"/>
<path d="M429.6 79.61H501M569.8 79.61H613.4M429.6 77.47V81.76M613.4 77.47V81.76" stroke="#474747" stroke-width="1.35" fill="none"/>
<rect x="501" y="76.35" width="68.8" height="6.53" fill="#10a870" stroke="#383838" stroke-width="1.1"/>
<line x1="554.4" y1="76.35" x2="554.4" y2="82.88" stroke="#383838" stroke-width="1.0"/>
<path d="M533.1 79.61L535.1 77.51L537.1 79.61L535.1 81.71Z" fill="#f00000" stroke="#1a0000" stroke-width="0.8"/>
<path d="M402.3 88.93H494.4M569.8 88.93H619.1M402.3 86.79V91.08M619.1 86.79V91.08" stroke="#474747" stroke-width="1.35" fill="none"/>
<rect x="494.4" y="85.67" width="75.4" height="6.53" fill="#10b090" stroke="#383838" stroke-width="1.1"/>
<line x1="541" y1="85.67" x2="541" y2="92.2" stroke="#383838" stroke-width="1.0"/>
<path d="M526.4 88.93L528.4 86.83L530.4 88.93L528.4 91.03Z" fill="#f00000" stroke="#1a0000" stroke-width="0.8"/>
<path d="M431 98.25H505.4M556.5 98.25H609.6M431 96.11V100.4M609.6 96.11V100.4" stroke="#474747" stroke-width="1.35" fill="none"/>
<rect x="505.4" y="94.99" width="51.1" height="6.53" fill="#10b0a0" stroke="#383838" stroke-width="1.1"/>
<line x1="531.4" y1="94.99" x2="531.4" y2="101.52" stroke="#383838" stroke-width="1.0"/>
<path d="M525.2 98.25L527.2 96.16L529.2 98.25L527.2 100.35Z" fill="#f00000" stroke="#1a0000" stroke-width="0.8"/>
<path d="M430 107.58H500.5M557.6 107.58H618.7M430 105.43V109.72M618.7 105.43V109.72" stroke="#474747" stroke-width="1.35" fill="none"/>
<rect x="500.5" y="104.31" width="57.1" height="6.53" fill="#10b0b0" stroke="#383838" stroke-width="1.1"/>
<line x1="526.7" y1="104.31" x2="526.7" y2="110.84" stroke="#383838" stroke-width="1.0"/>
<path d="M524.7 107.58L526.7 105.48L528.7 107.58L526.7 109.68Z" fill="#f00000" stroke="#1a0000" stroke-width="0.8"/>
<path d="M409.2 116.9H473.7M562.4 116.9H605.5M409.2 114.75V119.04M605.5 114.75V119.04" stroke="#474747" stroke-width="1.35" fill="none"/>
<rect x="473.7" y="113.63" width="88.7" height="6.53" fill="#10a8c0" stroke="#383838" stroke-width="1.1"/>
<line x1="518.3" y1="113.63" x2="518.3" y2="120.16" stroke="#383838" stroke-width="1.0"/>
<path d="M512.1 116.9L514.1 114.8L516.1 116.9L514.1 119Z" fill="#f00000" stroke="#1a0000" stroke-width="0.8"/>
<path d="M402.3 126.22H449.1M562 126.22H626.9M402.3 124.07V128.36M626.9 124.07V128.36" stroke="#474747" stroke-width="1.35" fill="none"/>
<rect x="449.1" y="122.95" width="112.9" height="6.53" fill="#18a8d0" stroke="#383838" stroke-width="1.1"/>
<line x1="524.2" y1="122.95" x2="524.2" y2="129.48" stroke="#383838" stroke-width="1.0"/>
<path d="M510.6 126.22L512.6 124.12L514.6 126.22L512.6 128.32Z" fill="#f00000" stroke="#1a0000" stroke-width="0.8"/>
<path d="M397 135.54H453.3M566 135.54H625.8M397 133.39V137.68M625.8 133.39V137.68" stroke="#474747" stroke-width="1.35" fill="none"/>
<rect x="453.3" y="132.27" width="112.7" height="6.53" fill="#40b0f0" stroke="#383838" stroke-width="1.1"/>
<line x1="520.4" y1="132.27" x2="520.4" y2="138.8" stroke="#383838" stroke-width="1.0"/>
<path d="M506.8 135.54L508.8 133.44L510.8 135.54L508.8 137.64Z" fill="#f00000" stroke="#1a0000" stroke-width="0.8"/>
<path d="M408.6 144.86H454.8M566.6 144.86H586.1M408.6 142.71V147M586.1 142.71V147" stroke="#474747" stroke-width="1.35" fill="none"/>
<rect x="454.8" y="141.59" width="111.8" height="6.53" fill="#a0b0f0" stroke="#383838" stroke-width="1.1"/>
<line x1="500.5" y1="141.59" x2="500.5" y2="148.12" stroke="#383838" stroke-width="1.0"/>
<path d="M505.5 144.86L507.5 142.76L509.5 144.86L507.5 146.96Z" fill="#f00000" stroke="#1a0000" stroke-width="0.8"/>
<path d="M410 154.18H446.4M550.5 154.18H596.6M410 152.03V156.32M596.6 152.03V156.32" stroke="#474747" stroke-width="1.35" fill="none"/>
<rect x="446.4" y="150.91" width="104.1" height="6.53" fill="#c0a0f0" stroke="#383838" stroke-width="1.1"/>
<line x1="505.5" y1="150.91" x2="505.5" y2="157.44" stroke="#383838" stroke-width="1.0"/>
<path d="M499.8 154.18L501.8 152.08L503.8 154.18L501.8 156.28Z" fill="#f00000" stroke="#1a0000" stroke-width="0.8"/>
<path d="M403.3 163.5H451.1M551 163.5H591.4M403.3 161.35V165.64M591.4 161.35V165.64" stroke="#474747" stroke-width="1.35" fill="none"/>
<rect x="451.1" y="160.24" width="99.9" height="6.53" fill="#e098e8" stroke="#383838" stroke-width="1.1"/>
<line x1="492.3" y1="160.24" x2="492.3" y2="166.76" stroke="#383838" stroke-width="1.0"/>
<path d="M495.2 163.5L497.2 161.4L499.2 163.5L497.2 165.6Z" fill="#f00000" stroke="#1a0000" stroke-width="0.8"/>
<path d="M405 172.82H456.6M536.1 172.82H572.5M405 170.67V174.96M572.5 170.67V174.96" stroke="#474747" stroke-width="1.35" fill="none"/>
<rect x="456.6" y="169.56" width="79.5" height="6.53" fill="#f088f0" stroke="#383838" stroke-width="1.1"/>
<line x1="497.8" y1="169.56" x2="497.8" y2="176.08" stroke="#383838" stroke-width="1.0"/>
<path d="M492.8 172.82L494.8 170.72L496.8 172.82L494.8 174.92Z" fill="#f00000" stroke="#1a0000" stroke-width="0.8"/>
<path d="M390 182.14H443.5M525.4 182.14H594.6M390 180V184.28M594.6 180V184.28" stroke="#474747" stroke-width="1.35" fill="none"/>
<rect x="443.5" y="178.88" width="81.9" height="6.53" fill="#f888c8" stroke="#383838" stroke-width="1.1"/>
<line x1="484.3" y1="178.88" x2="484.3" y2="185.4" stroke="#383838" stroke-width="1.0"/>
<path d="M485.2 182.14L487.2 180.04L489.2 182.14L487.2 184.24Z" fill="#f00000" stroke="#1a0000" stroke-width="0.8"/>
<path d="M392.4 191.46H431.5M505.6 191.46H612.9M392.4 189.32V193.6M612.9 189.32V193.6" stroke="#474747" stroke-width="1.35" fill="none"/>
<rect x="431.5" y="188.2" width="74.1" height="6.53" fill="#f890b0" stroke="#383838" stroke-width="1.1"/>
<line x1="466.2" y1="188.2" x2="466.2" y2="194.72" stroke="#383838" stroke-width="1.0"/>
<circle cx="628.9" cy="191.46" r="1.75" fill="none" stroke="#7c7c7c" stroke-width="0.8"/>
<path d="M469.4 191.46L471.4 189.36L473.4 191.46L471.4 193.56Z" fill="#f00000" stroke="#1a0000" stroke-width="0.8"/>
<rect x="376.7" y="0.3" width="289.5" height="195.8" fill="none" stroke="#555555" stroke-width="1.0"/>
<line x1="370.7" y1="5.05" x2="376.7" y2="5.05" stroke="#555555" stroke-width="1"/>
<text x="367.9" y="8.05" text-anchor="end" font-size="8.7" fill="#111">bare</text>
<line x1="370.7" y1="14.37" x2="376.7" y2="14.37" stroke="#555555" stroke-width="1"/>
<text x="367.9" y="17.37" text-anchor="end" font-size="8.7" fill="#111">OH</text>
<line x1="370.7" y1="23.69" x2="376.7" y2="23.69" stroke="#555555" stroke-width="1"/>
<text x="367.9" y="26.69" text-anchor="end" font-size="8.7" fill="#111">F</text>
<line x1="370.7" y1="33.01" x2="376.7" y2="33.01" stroke="#555555" stroke-width="1"/>
<text x="367.9" y="36.01" text-anchor="end" font-size="8.7" fill="#111">Me</text>
<line x1="370.7" y1="42.33" x2="376.7" y2="42.33" stroke="#555555" stroke-width="1"/>
<text x="367.9" y="45.33" text-anchor="end" font-size="8.7" fill="#111">Cl</text>
<line x1="370.7" y1="51.65" x2="376.7" y2="51.65" stroke="#555555" stroke-width="1"/>
<text x="367.9" y="54.65" text-anchor="end" font-size="8.7" fill="#111">NH2</text>
<line x1="370.7" y1="60.97" x2="376.7" y2="60.97" stroke="#555555" stroke-width="1"/>
<text x="367.9" y="63.97" text-anchor="end" font-size="8.7" fill="#111">OMe</text>
<line x1="370.7" y1="70.29" x2="376.7" y2="70.29" stroke="#555555" stroke-width="1"/>
<text x="367.9" y="73.29" text-anchor="end" font-size="8.7" fill="#111">CN</text>
<line x1="370.7" y1="79.61" x2="376.7" y2="79.61" stroke="#555555" stroke-width="1"/>
<text x="367.9" y="82.61" text-anchor="end" font-size="8.7" fill="#111">Et</text>
<line x1="370.7" y1="88.93" x2="376.7" y2="88.93" stroke="#555555" stroke-width="1"/>
<text x="367.9" y="91.93" text-anchor="end" font-size="8.7" fill="#111">COOH</text>
<line x1="370.7" y1="98.25" x2="376.7" y2="98.25" stroke="#555555" stroke-width="1"/>
<text x="367.9" y="101.25" text-anchor="end" font-size="8.7" fill="#111">NO2</text>
<line x1="370.7" y1="107.58" x2="376.7" y2="107.58" stroke="#555555" stroke-width="1"/>
<text x="367.9" y="110.58" text-anchor="end" font-size="8.7" fill="#111">OEt</text>
<line x1="370.7" y1="116.9" x2="376.7" y2="116.9" stroke="#555555" stroke-width="1"/>
<text x="367.9" y="119.9" text-anchor="end" font-size="8.7" fill="#111">Br</text>
<line x1="370.7" y1="126.22" x2="376.7" y2="126.22" stroke="#555555" stroke-width="1"/>
<text x="367.9" y="129.22" text-anchor="end" font-size="8.7" fill="#111">NHMe</text>
<line x1="370.7" y1="135.54" x2="376.7" y2="135.54" stroke="#555555" stroke-width="1"/>
<text x="367.9" y="138.54" text-anchor="end" font-size="8.7" fill="#111">HCO</text>
<line x1="370.7" y1="144.86" x2="376.7" y2="144.86" stroke="#555555" stroke-width="1"/>
<text x="367.9" y="147.86" text-anchor="end" font-size="8.7" fill="#111">Ph</text>
<line x1="370.7" y1="154.18" x2="376.7" y2="154.18" stroke="#555555" stroke-width="1"/>
<text x="367.9" y="157.18" text-anchor="end" font-size="8.7" fill="#111">Pr</text>
<line x1="370.7" y1="163.5" x2="376.7" y2="163.5" stroke="#555555" stroke-width="1"/>
<text x="367.9" y="166.5" text-anchor="end" font-size="8.7" fill="#111">OPr</text>
<line x1="370.7" y1="172.82" x2="376.7" y2="172.82" stroke="#555555" stroke-width="1"/>
<text x="367.9" y="175.82" text-anchor="end" font-size="8.7" fill="#111">I</text>
<line x1="370.7" y1="182.14" x2="376.7" y2="182.14" stroke="#555555" stroke-width="1"/>
<text x="367.9" y="185.14" text-anchor="end" font-size="8.7" fill="#111">SO3H</text>
<line x1="370.7" y1="191.46" x2="376.7" y2="191.46" stroke="#555555" stroke-width="1"/>
<text x="367.9" y="194.46" text-anchor="end" font-size="8.7" fill="#111">mixed</text>
<line x1="385.4" y1="196.1" x2="385.4" y2="201.6" stroke="#555555" stroke-width="1"/>
<text x="385.4" y="213.1" text-anchor="middle" font-size="11.6" fill="#111">0</text>
<line x1="452" y1="196.1" x2="452" y2="201.6" stroke="#555555" stroke-width="1"/>
<text x="452" y="213.1" text-anchor="middle" font-size="11.6" fill="#111">5</text>
<line x1="518.5" y1="196.1" x2="518.5" y2="201.6" stroke="#555555" stroke-width="1"/>
<text x="518.5" y="213.1" text-anchor="middle" font-size="11.6" fill="#111">10</text>
<line x1="584.9" y1="196.1" x2="584.9" y2="201.6" stroke="#555555" stroke-width="1"/>
<text x="584.9" y="213.1" text-anchor="middle" font-size="11.6" fill="#111">15</text>
<line x1="651.4" y1="196.1" x2="651.4" y2="201.6" stroke="#555555" stroke-width="1"/>
<text x="651.4" y="213.1" text-anchor="middle" font-size="11.6" fill="#111">20</text>
<text x="473" y="232.5" font-weight="bold" font-size="15" fill="#111">ΔN</text><text x="493.2" y="234.7" font-weight="bold" font-size="10.4" fill="#111">SO</text><text x="508.4" y="237.4" font-weight="bold" font-size="7" fill="#111">2</text><text x="514" y="232.5" font-weight="bold" font-size="15" fill="#111">(mol/kg)</text>
<line x1="35.5" y1="262.2" x2="323" y2="262.2" stroke="#ebebeb" stroke-width="0.8"/>
<line x1="35.5" y1="271.56" x2="323" y2="271.56" stroke="#ebebeb" stroke-width="0.8"/>
<line x1="35.5" y1="280.92" x2="323" y2="280.92" stroke="#ebebeb" stroke-width="0.8"/>
<line x1="35.5" y1="290.28" x2="323" y2="290.28" stroke="#ebebeb" stroke-width="0.8"/>
<line x1="35.5" y1="299.64" x2="323" y2="299.64" stroke="#ebebeb" stroke-width="0.8"/>
<line x1="35.5" y1="309" x2="323" y2="309" stroke="#ebebeb" stroke-width="0.8"/>
<line x1="35.5" y1="318.36" x2="323" y2="318.36" stroke="#ebebeb" stroke-width="0.8"/>
<line x1="35.5" y1="327.72" x2="323" y2="327.72" stroke="#ebebeb" stroke-width="0.8"/>
<line x1="35.5" y1="337.08" x2="323" y2="337.08" stroke="#ebebeb" stroke-width="0.8"/>
<line x1="35.5" y1="346.44" x2="323" y2="346.44" stroke="#ebebeb" stroke-width="0.8"/>
<line x1="35.5" y1="355.8" x2="323" y2="355.8" stroke="#ebebeb" stroke-width="0.8"/>
<line x1="35.5" y1="365.16" x2="323" y2="365.16" stroke="#ebebeb" stroke-width="0.8"/>
<line x1="35.5" y1="374.52" x2="323" y2="374.52" stroke="#ebebeb" stroke-width="0.8"/>
<line x1="35.5" y1="383.88" x2="323" y2="383.88" stroke="#ebebeb" stroke-width="0.8"/>
<line x1="35.5" y1="393.24" x2="323" y2="393.24" stroke="#ebebeb" stroke-width="0.8"/>
<line x1="35.5" y1="402.6" x2="323" y2="402.6" stroke="#ebebeb" stroke-width="0.8"/>
<line x1="35.5" y1="411.96" x2="323" y2="411.96" stroke="#ebebeb" stroke-width="0.8"/>
<line x1="35.5" y1="421.32" x2="323" y2="421.32" stroke="#ebebeb" stroke-width="0.8"/>
<line x1="35.5" y1="430.68" x2="323" y2="430.68" stroke="#ebebeb" stroke-width="0.8"/>
<line x1="35.5" y1="440.04" x2="323" y2="440.04" stroke="#ebebeb" stroke-width="0.8"/>
<line x1="35.5" y1="449.4" x2="323" y2="449.4" stroke="#ebebeb" stroke-width="0.8"/>
<path d="M291.6 262.2H300M307.8 262.2H309.5M291.6 260.05V264.35M309.5 260.05V264.35" stroke="#474747" stroke-width="1.35" fill="none"/>
<rect x="300" y="258.93" width="7.8" height="6.53" fill="#f59eae" stroke="#383838" stroke-width="1.1"/>
<line x1="303.6" y1="258.93" x2="303.6" y2="265.47" stroke="#383838" stroke-width="1.0"/>
<path d="M301.2 262.2L303.2 260.1L305.2 262.2L303.2 264.3Z" fill="#f00000" stroke="#1a0000" stroke-width="0.8"/>
<path d="M287.9 271.56H299M307.8 271.56H309.5M287.9 269.41V273.71M309.5 269.41V273.71" stroke="#474747" stroke-width="1.35" fill="none"/>
<rect x="299" y="268.29" width="8.8" height="6.53" fill="#f89880" stroke="#383838" stroke-width="1.1"/>
<line x1="304.5" y1="268.29" x2="304.5" y2="274.83" stroke="#383838" stroke-width="1.0"/>
<circle cx="279.5" cy="271.56" r="1.75" fill="none" stroke="#7c7c7c" stroke-width="0.8"/>
<path d="M299.9 271.56L301.9 269.46L303.9 271.56L301.9 273.66Z" fill="#f00000" stroke="#1a0000" stroke-width="0.8"/>
<path d="M282.2 280.92H293.5M306.3 280.92H310.3M282.2 278.77V283.07M310.3 278.77V283.07" stroke="#474747" stroke-width="1.35" fill="none"/>
<rect x="293.5" y="277.65" width="12.8" height="6.53" fill="#f0a050" stroke="#383838" stroke-width="1.1"/>
<line x1="303" y1="277.65" x2="303" y2="284.19" stroke="#383838" stroke-width="1.0"/>
<circle cx="244.2" cy="280.92" r="1.75" fill="none" stroke="#7c7c7c" stroke-width="0.8"/>
<circle cx="263.3" cy="280.92" r="1.75" fill="none" stroke="#7c7c7c" stroke-width="0.8"/>
<circle cx="268.5" cy="280.92" r="1.75" fill="none" stroke="#7c7c7c" stroke-width="0.8"/>
<circle cx="272.1" cy="280.92" r="1.75" fill="none" stroke="#7c7c7c" stroke-width="0.8"/>
<path d="M294.9 280.92L296.9 278.82L298.9 280.92L296.9 283.02Z" fill="#f00000" stroke="#1a0000" stroke-width="0.8"/>
<path d="M278 290.28H288.9M305.7 290.28H307.4M278 288.13V292.43M307.4 288.13V292.43" stroke="#474747" stroke-width="1.35" fill="none"/>
<rect x="288.9" y="287.01" width="16.8" height="6.53" fill="#d4a048" stroke="#383838" stroke-width="1.1"/>
<line x1="300" y1="287.01" x2="300" y2="293.55" stroke="#383838" stroke-width="1.0"/>
<circle cx="240.2" cy="290.28" r="1.75" fill="none" stroke="#7c7c7c" stroke-width="0.8"/>
<circle cx="248.4" cy="290.28" r="1.75" fill="none" stroke="#7c7c7c" stroke-width="0.8"/>
<path d="M293.2 290.28L295.2 288.18L297.2 290.28L295.2 292.38Z" fill="#f00000" stroke="#1a0000" stroke-width="0.8"/>
<path d="M257.5 299.64H286M306.7 299.64H309.4M257.5 297.49V301.79M309.4 297.49V301.79" stroke="#474747" stroke-width="1.35" fill="none"/>
<rect x="286" y="296.37" width="20.7" height="6.53" fill="#b0a040" stroke="#383838" stroke-width="1.1"/>
<line x1="300.4" y1="296.37" x2="300.4" y2="302.91" stroke="#383838" stroke-width="1.0"/>
<circle cx="181.5" cy="299.64" r="1.75" fill="none" stroke="#7c7c7c" stroke-width="0.8"/>
<circle cx="202.4" cy="299.64" r="1.75" fill="none" stroke="#7c7c7c" stroke-width="0.8"/>
<circle cx="212.9" cy="299.64" r="1.75" fill="none" stroke="#7c7c7c" stroke-width="0.8"/>
<circle cx="255.2" cy="299.64" r="1.75" fill="none" stroke="#7c7c7c" stroke-width="0.8"/>
<path d="M288.4 299.64L290.4 297.54L292.4 299.64L290.4 301.74Z" fill="#f00000" stroke="#1a0000" stroke-width="0.8"/>
<path d="M245.9 309H274.2M300.4 309H308.3M245.9 306.85V311.15M308.3 306.85V311.15" stroke="#474747" stroke-width="1.35" fill="none"/>
<rect x="274.2" y="305.73" width="26.2" height="6.53" fill="#a0a838" stroke="#383838" stroke-width="1.1"/>
<line x1="292" y1="305.73" x2="292" y2="312.27" stroke="#383838" stroke-width="1.0"/>
<circle cx="212.9" cy="309" r="1.75" fill="none" stroke="#7c7c7c" stroke-width="0.8"/>
<circle cx="233.2" cy="309" r="1.75" fill="none" stroke="#7c7c7c" stroke-width="0.8"/>
<path d="M283.2 309L285.2 306.9L287.2 309L285.2 311.1Z" fill="#f00000" stroke="#1a0000" stroke-width="0.8"/>
<path d="M245.9 318.36H279.5M303.3 318.36H308.8M245.9 316.21V320.51M308.8 316.21V320.51" stroke="#474747" stroke-width="1.35" fill="none"/>
<rect x="279.5" y="315.09" width="23.8" height="6.53" fill="#80b040" stroke="#383838" stroke-width="1.1"/>
<line x1="296.6" y1="315.09" x2="296.6" y2="321.63" stroke="#383838" stroke-width="1.0"/>
<circle cx="136.7" cy="318.36" r="1.75" fill="none" stroke="#7c7c7c" stroke-width="0.8"/>
<circle cx="191.4" cy="318.36" r="1.75" fill="none" stroke="#7c7c7c" stroke-width="0.8"/>
<circle cx="203.7" cy="318.36" r="1.75" fill="none" stroke="#7c7c7c" stroke-width="0.8"/>
<circle cx="236" cy="318.36" r="1.75" fill="none" stroke="#7c7c7c" stroke-width="0.8"/>
<path d="M280 318.36L282 316.26L284 318.36L282 320.46Z" fill="#f00000" stroke="#1a0000" stroke-width="0.8"/>
<path d="M240.5 327.72H277.3M303.5 327.72H306.9M240.5 325.57V329.87M306.9 325.57V329.87" stroke="#474747" stroke-width="1.35" fill="none"/>
<rect x="277.3" y="324.45" width="26.2" height="6.53" fill="#10c030" stroke="#383838" stroke-width="1.1"/>
<line x1="292.5" y1="324.45" x2="292.5" y2="330.99" stroke="#383838" stroke-width="1.0"/>
<circle cx="174.7" cy="327.72" r="1.75" fill="none" stroke="#7c7c7c" stroke-width="0.8"/>
<circle cx="187.9" cy="327.72" r="1.75" fill="none" stroke="#7c7c7c" stroke-width="0.8"/>
<circle cx="225.3" cy="327.72" r="1.75" fill="none" stroke="#7c7c7c" stroke-width="0.8"/>
<circle cx="232.7" cy="327.72" r="1.75" fill="none" stroke="#7c7c7c" stroke-width="0.8"/>
<circle cx="234.8" cy="327.72" r="1.75" fill="none" stroke="#7c7c7c" stroke-width="0.8"/>
<path d="M279.2 327.72L281.2 325.62L283.2 327.72L281.2 329.82Z" fill="#f00000" stroke="#1a0000" stroke-width="0.8"/>
<path d="M250.5 337.08H276M299.6 337.08H306.9M250.5 334.93V339.23M306.9 334.93V339.23" stroke="#474747" stroke-width="1.35" fill="none"/>
<rect x="276" y="333.81" width="23.6" height="6.53" fill="#10a870" stroke="#383838" stroke-width="1.1"/>
<line x1="291.7" y1="333.81" x2="291.7" y2="340.35" stroke="#383838" stroke-width="1.0"/>
<circle cx="136.3" cy="337.08" r="1.75" fill="none" stroke="#7c7c7c" stroke-width="0.8"/>
<circle cx="139.6" cy="337.08" r="1.75" fill="none" stroke="#7c7c7c" stroke-width="0.8"/>
<circle cx="216.9" cy="337.08" r="1.75" fill="none" stroke="#7c7c7c" stroke-width="0.8"/>
<path d="M278.4 337.08L280.4 334.98L282.4 337.08L280.4 339.18Z" fill="#f00000" stroke="#1a0000" stroke-width="0.8"/>
<path d="M187.5 346.44H253.6M300.9 346.44H309.3M187.5 344.29V348.59M309.3 344.29V348.59" stroke="#474747" stroke-width="1.35" fill="none"/>
<rect x="253.6" y="343.17" width="47.3" height="6.53" fill="#10b090" stroke="#383838" stroke-width="1.1"/>
<line x1="290.9" y1="343.17" x2="290.9" y2="349.71" stroke="#383838" stroke-width="1.0"/>
<circle cx="143.2" cy="346.44" r="1.75" fill="none" stroke="#7c7c7c" stroke-width="0.8"/>
<circle cx="152.2" cy="346.44" r="1.75" fill="none" stroke="#7c7c7c" stroke-width="0.8"/>
<circle cx="165.9" cy="346.44" r="1.75" fill="none" stroke="#7c7c7c" stroke-width="0.8"/>
<path d="M271.9 346.44L273.9 344.34L275.9 346.44L273.9 348.54Z" fill="#f00000" stroke="#1a0000" stroke-width="0.8"/>
<path d="M187.3 355.8H242.4M284.4 355.8H299M187.3 353.65V357.95M299 353.65V357.95" stroke="#474747" stroke-width="1.35" fill="none"/>
<rect x="242.4" y="352.53" width="42" height="6.53" fill="#10b0a0" stroke="#383838" stroke-width="1.1"/>
<line x1="268.4" y1="352.53" x2="268.4" y2="359.07" stroke="#383838" stroke-width="1.0"/>
<circle cx="161.1" cy="355.8" r="1.75" fill="none" stroke="#7c7c7c" stroke-width="0.8"/>
<circle cx="172.2" cy="355.8" r="1.75" fill="none" stroke="#7c7c7c" stroke-width="0.8"/>
<path d="M259.2 355.8L261.2 353.7L263.2 355.8L261.2 357.9Z" fill="#f00000" stroke="#1a0000" stroke-width="0.8"/>
<path d="M136.7 365.16H224M297.7 365.16H307.4M136.7 363.01V367.31M307.4 363.01V367.31" stroke="#474747" stroke-width="1.35" fill="none"/>
<rect x="224" y="361.89" width="73.7" height="6.53" fill="#10b0b0" stroke="#383838" stroke-width="1.1"/>
<line x1="274.6" y1="361.89" x2="274.6" y2="368.43" stroke="#383838" stroke-width="1.0"/>
<path d="M254.3 365.16L256.3 363.06L258.3 365.16L256.3 367.26Z" fill="#f00000" stroke="#1a0000" stroke-width="0.8"/>
<path d="M154 374.52H238.4M298.8 374.52H307.4M154 372.37V376.67M307.4 372.37V376.67" stroke="#474747" stroke-width="1.35" fill="none"/>
<rect x="238.4" y="371.25" width="60.4" height="6.53" fill="#10a8c0" stroke="#383838" stroke-width="1.1"/>
<line x1="268.1" y1="371.25" x2="268.1" y2="377.79" stroke="#383838" stroke-width="1.0"/>
<circle cx="85.2" cy="374.52" r="1.75" fill="none" stroke="#7c7c7c" stroke-width="0.8"/>
<path d="M253 374.52L255 372.42L257 374.52L255 376.62Z" fill="#f00000" stroke="#1a0000" stroke-width="0.8"/>
<path d="M116.4 383.88H220M296.2 383.88H306.7M116.4 381.73V386.03M306.7 381.73V386.03" stroke="#474747" stroke-width="1.35" fill="none"/>
<rect x="220" y="380.61" width="76.2" height="6.53" fill="#18a8d0" stroke="#383838" stroke-width="1.1"/>
<line x1="280.4" y1="380.61" x2="280.4" y2="387.15" stroke="#383838" stroke-width="1.0"/>
<path d="M252.4 383.88L254.4 381.78L256.4 383.88L254.4 385.98Z" fill="#f00000" stroke="#1a0000" stroke-width="0.8"/>
<path d="M116.4 393.24H174.7M291.7 393.24H300.1M116.4 391.09V395.39M300.1 391.09V395.39" stroke="#474747" stroke-width="1.35" fill="none"/>
<rect x="174.7" y="389.97" width="117" height="6.53" fill="#40b0f0" stroke="#383838" stroke-width="1.1"/>
<line x1="249.2" y1="389.97" x2="249.2" y2="396.51" stroke="#383838" stroke-width="1.0"/>
<path d="M230.7 393.24L232.7 391.14L234.7 393.24L232.7 395.34Z" fill="#f00000" stroke="#1a0000" stroke-width="0.8"/>
<path d="M96.4 402.6H160.4M289.2 402.6H302.7M96.4 400.45V404.75M302.7 400.45V404.75" stroke="#474747" stroke-width="1.35" fill="none"/>
<rect x="160.4" y="399.33" width="128.8" height="6.53" fill="#a0b0f0" stroke="#383838" stroke-width="1.1"/>
<line x1="251.8" y1="399.33" x2="251.8" y2="405.87" stroke="#383838" stroke-width="1.0"/>
<path d="M228 402.6L230 400.5L232 402.6L230 404.7Z" fill="#f00000" stroke="#1a0000" stroke-width="0.8"/>
<path d="M84.7 411.96H179.1M288.5 411.96H299M84.7 409.81V414.11M299 409.81V414.11" stroke="#474747" stroke-width="1.35" fill="none"/>
<rect x="179.1" y="408.69" width="109.4" height="6.53" fill="#c0a0f0" stroke="#383838" stroke-width="1.1"/>
<line x1="229" y1="408.69" x2="229" y2="415.23" stroke="#383838" stroke-width="1.0"/>
<path d="M222 411.96L224 409.86L226 411.96L224 414.06Z" fill="#f00000" stroke="#1a0000" stroke-width="0.8"/>
<path d="M48 421.32H151.2M277.3 421.32H308.7M48 419.17V423.47M308.7 419.17V423.47" stroke="#474747" stroke-width="1.35" fill="none"/>
<rect x="151.2" y="418.05" width="126.1" height="6.53" fill="#e098e8" stroke="#383838" stroke-width="1.1"/>
<line x1="227.6" y1="418.05" x2="227.6" y2="424.59" stroke="#383838" stroke-width="1.0"/>
<path d="M209 421.32L211 419.22L213 421.32L211 423.42Z" fill="#f00000" stroke="#1a0000" stroke-width="0.8"/>
<path d="M64.3 430.68H124.2M274.1 430.68H306.5M64.3 428.53V432.83M306.5 428.53V432.83" stroke="#474747" stroke-width="1.35" fill="none"/>
<rect x="124.2" y="427.41" width="149.9" height="6.53" fill="#f088f0" stroke="#383838" stroke-width="1.1"/>
<line x1="238.4" y1="427.41" x2="238.4" y2="433.95" stroke="#383838" stroke-width="1.0"/>
<path d="M205.2 430.68L207.2 428.58L209.2 430.68L207.2 432.78Z" fill="#f00000" stroke="#1a0000" stroke-width="0.8"/>
<path d="M52.5 440.04H153.4M267.4 440.04H304.1M52.5 437.89V442.19M304.1 437.89V442.19" stroke="#474747" stroke-width="1.35" fill="none"/>
<rect x="153.4" y="436.77" width="114" height="6.53" fill="#f888c8" stroke="#383838" stroke-width="1.1"/>
<line x1="215.1" y1="436.77" x2="215.1" y2="443.31" stroke="#383838" stroke-width="1.0"/>
<path d="M201.3 440.04L203.3 437.94L205.3 440.04L203.3 442.14Z" fill="#f00000" stroke="#1a0000" stroke-width="0.8"/>
<path d="M55.3 449.4H137.5M279.4 449.4H308.8M55.3 447.25V451.55M308.8 447.25V451.55" stroke="#474747" stroke-width="1.35" fill="none"/>
<rect x="137.5" y="446.13" width="141.9" height="6.53" fill="#f890b0" stroke="#383838" stroke-width="1.1"/>
<line x1="210.4" y1="446.13" x2="210.4" y2="452.67" stroke="#383838" stroke-width="1.0"/>
<path d="M196 449.4L198 447.3L200 449.4L198 451.5Z" fill="#f00000" stroke="#1a0000" stroke-width="0.8"/>
<rect x="35.5" y="257.5" width="287.5" height="196" fill="none" stroke="#555555" stroke-width="1.0"/>
<line x1="29.5" y1="262.2" x2="35.5" y2="262.2" stroke="#555555" stroke-width="1"/>
<text x="26.7" y="265.2" text-anchor="end" font-size="8.7" fill="#111">bare</text>
<line x1="29.5" y1="271.56" x2="35.5" y2="271.56" stroke="#555555" stroke-width="1"/>
<text x="26.7" y="274.56" text-anchor="end" font-size="8.7" fill="#111">F</text>
<line x1="29.5" y1="280.92" x2="35.5" y2="280.92" stroke="#555555" stroke-width="1"/>
<text x="26.7" y="283.92" text-anchor="end" font-size="8.7" fill="#111">Cl</text>
<line x1="29.5" y1="290.28" x2="35.5" y2="290.28" stroke="#555555" stroke-width="1"/>
<text x="26.7" y="293.28" text-anchor="end" font-size="8.7" fill="#111">Br</text>
<line x1="29.5" y1="299.64" x2="35.5" y2="299.64" stroke="#555555" stroke-width="1"/>
<text x="26.7" y="302.64" text-anchor="end" font-size="8.7" fill="#111">OH</text>
<line x1="29.5" y1="309" x2="35.5" y2="309" stroke="#555555" stroke-width="1"/>
<text x="26.7" y="312" text-anchor="end" font-size="8.7" fill="#111">I</text>
<line x1="29.5" y1="318.36" x2="35.5" y2="318.36" stroke="#555555" stroke-width="1"/>
<text x="26.7" y="321.36" text-anchor="end" font-size="8.7" fill="#111">CN</text>
<line x1="29.5" y1="327.72" x2="35.5" y2="327.72" stroke="#555555" stroke-width="1"/>
<text x="26.7" y="330.72" text-anchor="end" font-size="8.7" fill="#111">Me</text>
<line x1="29.5" y1="337.08" x2="35.5" y2="337.08" stroke="#555555" stroke-width="1"/>
<text x="26.7" y="340.08" text-anchor="end" font-size="8.7" fill="#111">OMe</text>
<line x1="29.5" y1="346.44" x2="35.5" y2="346.44" stroke="#555555" stroke-width="1"/>
<text x="26.7" y="349.44" text-anchor="end" font-size="8.7" fill="#111">NO2</text>
<line x1="29.5" y1="355.8" x2="35.5" y2="355.8" stroke="#555555" stroke-width="1"/>
<text x="26.7" y="358.8" text-anchor="end" font-size="8.7" fill="#111">OEt</text>
<line x1="29.5" y1="365.16" x2="35.5" y2="365.16" stroke="#555555" stroke-width="1"/>
<text x="26.7" y="368.16" text-anchor="end" font-size="8.7" fill="#111">NH2</text>
<line x1="29.5" y1="374.52" x2="35.5" y2="374.52" stroke="#555555" stroke-width="1"/>
<text x="26.7" y="377.52" text-anchor="end" font-size="8.7" fill="#111">COOH</text>
<line x1="29.5" y1="383.88" x2="35.5" y2="383.88" stroke="#555555" stroke-width="1"/>
<text x="26.7" y="386.88" text-anchor="end" font-size="8.7" fill="#111">Et</text>
<line x1="29.5" y1="393.24" x2="35.5" y2="393.24" stroke="#555555" stroke-width="1"/>
<text x="26.7" y="396.24" text-anchor="end" font-size="8.7" fill="#111">Pr</text>
<line x1="29.5" y1="402.6" x2="35.5" y2="402.6" stroke="#555555" stroke-width="1"/>
<text x="26.7" y="405.6" text-anchor="end" font-size="8.7" fill="#111">Ph</text>
<line x1="29.5" y1="411.96" x2="35.5" y2="411.96" stroke="#555555" stroke-width="1"/>
<text x="26.7" y="414.96" text-anchor="end" font-size="8.7" fill="#111">OPr</text>
<line x1="29.5" y1="421.32" x2="35.5" y2="421.32" stroke="#555555" stroke-width="1"/>
<text x="26.7" y="424.32" text-anchor="end" font-size="8.7" fill="#111">mixed</text>
<line x1="29.5" y1="430.68" x2="35.5" y2="430.68" stroke="#555555" stroke-width="1"/>
<text x="26.7" y="433.68" text-anchor="end" font-size="8.7" fill="#111">NHMe</text>
<line x1="29.5" y1="440.04" x2="35.5" y2="440.04" stroke="#555555" stroke-width="1"/>
<text x="26.7" y="443.04" text-anchor="end" font-size="8.7" fill="#111">SO3H</text>
<line x1="29.5" y1="449.4" x2="35.5" y2="449.4" stroke="#555555" stroke-width="1"/>
<text x="26.7" y="452.4" text-anchor="end" font-size="8.7" fill="#111">HCO</text>
<line x1="88.2" y1="453.5" x2="88.2" y2="459" stroke="#555555" stroke-width="1"/>
<text x="88.2" y="471.3" text-anchor="middle" font-size="11.6" fill="#111">20</text>
<line x1="144.6" y1="453.5" x2="144.6" y2="459" stroke="#555555" stroke-width="1"/>
<text x="144.6" y="471.3" text-anchor="middle" font-size="11.6" fill="#111">40</text>
<line x1="201" y1="453.5" x2="201" y2="459" stroke="#555555" stroke-width="1"/>
<text x="201" y="471.3" text-anchor="middle" font-size="11.6" fill="#111">60</text>
<line x1="257.4" y1="453.5" x2="257.4" y2="459" stroke="#555555" stroke-width="1"/>
<text x="257.4" y="471.3" text-anchor="middle" font-size="11.6" fill="#111">80</text>
<line x1="313.8" y1="453.5" x2="313.8" y2="459" stroke="#555555" stroke-width="1"/>
<text x="313.8" y="471.3" text-anchor="middle" font-size="11.6" fill="#111">100</text>
<text x="151.7" y="489.8" font-weight="bold" font-size="15" fill="#111">R</text><text x="162.2" y="492.6" font-weight="bold" font-size="10.2" fill="#111">SO</text><text x="177.5" y="495.2" font-weight="bold" font-size="7" fill="#111">2</text><text x="185.4" y="489.8" font-weight="bold" font-size="15" fill="#111">(%)</text>
<line x1="376.7" y1="262.3" x2="666.3" y2="262.3" stroke="#ebebeb" stroke-width="0.8"/>
<line x1="376.7" y1="271.66" x2="666.3" y2="271.66" stroke="#ebebeb" stroke-width="0.8"/>
<line x1="376.7" y1="281.02" x2="666.3" y2="281.02" stroke="#ebebeb" stroke-width="0.8"/>
<line x1="376.7" y1="290.38" x2="666.3" y2="290.38" stroke="#ebebeb" stroke-width="0.8"/>
<line x1="376.7" y1="299.74" x2="666.3" y2="299.74" stroke="#ebebeb" stroke-width="0.8"/>
<line x1="376.7" y1="309.1" x2="666.3" y2="309.1" stroke="#ebebeb" stroke-width="0.8"/>
<line x1="376.7" y1="318.46" x2="666.3" y2="318.46" stroke="#ebebeb" stroke-width="0.8"/>
<line x1="376.7" y1="327.82" x2="666.3" y2="327.82" stroke="#ebebeb" stroke-width="0.8"/>
<line x1="376.7" y1="337.18" x2="666.3" y2="337.18" stroke="#ebebeb" stroke-width="0.8"/>
<line x1="376.7" y1="346.54" x2="666.3" y2="346.54" stroke="#ebebeb" stroke-width="0.8"/>
<line x1="376.7" y1="355.9" x2="666.3" y2="355.9" stroke="#ebebeb" stroke-width="0.8"/>
<line x1="376.7" y1="365.26" x2="666.3" y2="365.26" stroke="#ebebeb" stroke-width="0.8"/>
<line x1="376.7" y1="374.62" x2="666.3" y2="374.62" stroke="#ebebeb" stroke-width="0.8"/>
<line x1="376.7" y1="383.98" x2="666.3" y2="383.98" stroke="#ebebeb" stroke-width="0.8"/>
<line x1="376.7" y1="393.34" x2="666.3" y2="393.34" stroke="#ebebeb" stroke-width="0.8"/>
<line x1="376.7" y1="402.7" x2="666.3" y2="402.7" stroke="#ebebeb" stroke-width="0.8"/>
<line x1="376.7" y1="412.06" x2="666.3" y2="412.06" stroke="#ebebeb" stroke-width="0.8"/>
<line x1="376.7" y1="421.42" x2="666.3" y2="421.42" stroke="#ebebeb" stroke-width="0.8"/>
<line x1="376.7" y1="430.78" x2="666.3" y2="430.78" stroke="#ebebeb" stroke-width="0.8"/>
<line x1="376.7" y1="440.14" x2="666.3" y2="440.14" stroke="#ebebeb" stroke-width="0.8"/>
<line x1="376.7" y1="449.5" x2="666.3" y2="449.5" stroke="#ebebeb" stroke-width="0.8"/>
<path d="M501.6 262.3H565.5M636.4 262.3H639.8M501.6 260.15V264.45M639.8 260.15V264.45" stroke="#474747" stroke-width="1.35" fill="none"/>
<rect x="565.5" y="259.03" width="70.9" height="6.54" fill="#f59eae" stroke="#383838" stroke-width="1.1"/>
<line x1="606.2" y1="259.03" x2="606.2" y2="265.57" stroke="#383838" stroke-width="1.0"/>
<path d="M595.7 262.3L597.7 260.2L599.7 262.3L597.7 264.4Z" fill="#f00000" stroke="#1a0000" stroke-width="0.8"/>
<path d="M465.2 271.66H554.9M626.3 271.66H646.8M465.2 269.51V273.81M646.8 269.51V273.81" stroke="#474747" stroke-width="1.35" fill="none"/>
<rect x="554.9" y="268.39" width="71.4" height="6.54" fill="#f89880" stroke="#383838" stroke-width="1.1"/>
<line x1="584" y1="268.39" x2="584" y2="274.93" stroke="#383838" stroke-width="1.0"/>
<path d="M582.3 271.66L584.3 269.56L586.3 271.66L584.3 273.76Z" fill="#f00000" stroke="#1a0000" stroke-width="0.8"/>
<path d="M462.8 281.02H544.5M609.5 281.02H637.6M462.8 278.87V283.17M637.6 278.87V283.17" stroke="#474747" stroke-width="1.35" fill="none"/>
<rect x="544.5" y="277.75" width="65" height="6.54" fill="#f0a050" stroke="#383838" stroke-width="1.1"/>
<line x1="563.5" y1="277.75" x2="563.5" y2="284.29" stroke="#383838" stroke-width="1.0"/>
<circle cx="444.8" cy="281.02" r="1.75" fill="none" stroke="#7c7c7c" stroke-width="0.8"/>
<path d="M563.5 281.02L565.5 278.92L567.5 281.02L565.5 283.12Z" fill="#f00000" stroke="#1a0000" stroke-width="0.8"/>
<path d="M457.1 290.38H535.5M605.6 290.38H641.8M457.1 288.23V292.53M641.8 288.23V292.53" stroke="#474747" stroke-width="1.35" fill="none"/>
<rect x="535.5" y="287.11" width="70.1" height="6.54" fill="#d4a048" stroke="#383838" stroke-width="1.1"/>
<line x1="566.3" y1="287.11" x2="566.3" y2="293.65" stroke="#383838" stroke-width="1.0"/>
<circle cx="423.5" cy="290.38" r="1.75" fill="none" stroke="#7c7c7c" stroke-width="0.8"/>
<path d="M560.1 290.38L562.1 288.28L564.1 290.38L562.1 292.48Z" fill="#f00000" stroke="#1a0000" stroke-width="0.8"/>
<path d="M428.3 299.74H533.8M608.4 299.74H647.7M428.3 297.59V301.89M647.7 297.59V301.89" stroke="#474747" stroke-width="1.35" fill="none"/>
<rect x="533.8" y="296.47" width="74.6" height="6.54" fill="#b0a040" stroke="#383838" stroke-width="1.1"/>
<line x1="565.5" y1="296.47" x2="565.5" y2="303.01" stroke="#383838" stroke-width="1.0"/>
<path d="M557.9 299.74L559.9 297.64L561.9 299.74L559.9 301.84Z" fill="#f00000" stroke="#1a0000" stroke-width="0.8"/>
<path d="M478.3 309.1H537.9M592.5 309.1H648M478.3 306.95V311.25M648 306.95V311.25" stroke="#474747" stroke-width="1.35" fill="none"/>
<rect x="537.9" y="305.83" width="54.6" height="6.54" fill="#a0a838" stroke="#383838" stroke-width="1.1"/>
<line x1="561.9" y1="305.83" x2="561.9" y2="312.37" stroke="#383838" stroke-width="1.0"/>
<circle cx="435.1" cy="309.1" r="1.75" fill="none" stroke="#7c7c7c" stroke-width="0.8"/>
<circle cx="446" cy="309.1" r="1.75" fill="none" stroke="#7c7c7c" stroke-width="0.8"/>
<circle cx="454" cy="309.1" r="1.75" fill="none" stroke="#7c7c7c" stroke-width="0.8"/>
<path d="M555.1 309.1L557.1 307L559.1 309.1L557.1 311.2Z" fill="#f00000" stroke="#1a0000" stroke-width="0.8"/>
<path d="M448.3 318.46H522.8M574.5 318.46H633.4M448.3 316.31V320.61M633.4 316.31V320.61" stroke="#474747" stroke-width="1.35" fill="none"/>
<rect x="522.8" y="315.19" width="51.7" height="6.54" fill="#80b040" stroke="#383838" stroke-width="1.1"/>
<line x1="555.1" y1="315.19" x2="555.1" y2="321.73" stroke="#383838" stroke-width="1.0"/>
<circle cx="442" cy="318.46" r="1.75" fill="none" stroke="#7c7c7c" stroke-width="0.8"/>
<path d="M548 318.46L550 316.36L552 318.46L550 320.56Z" fill="#f00000" stroke="#1a0000" stroke-width="0.8"/>
<path d="M390.5 327.82H511.5M593.5 327.82H646.7M390.5 325.67V329.97M646.7 325.67V329.97" stroke="#474747" stroke-width="1.35" fill="none"/>
<rect x="511.5" y="324.55" width="82" height="6.54" fill="#10c030" stroke="#383838" stroke-width="1.1"/>
<line x1="556.3" y1="324.55" x2="556.3" y2="331.09" stroke="#383838" stroke-width="1.0"/>
<path d="M546.9 327.82L548.9 325.72L550.9 327.82L548.9 329.92Z" fill="#f00000" stroke="#1a0000" stroke-width="0.8"/>
<path d="M433.5 337.18H500.8M592 337.18H634.7M433.5 335.03V339.33M634.7 335.03V339.33" stroke="#474747" stroke-width="1.35" fill="none"/>
<rect x="500.8" y="333.91" width="91.2" height="6.54" fill="#10a870" stroke="#383838" stroke-width="1.1"/>
<line x1="549.3" y1="333.91" x2="549.3" y2="340.45" stroke="#383838" stroke-width="1.0"/>
<path d="M541 337.18L543 335.08L545 337.18L543 339.28Z" fill="#f00000" stroke="#1a0000" stroke-width="0.8"/>
<path d="M400.5 346.54H491.4M602.5 346.54H644.4M400.5 344.39V348.69M644.4 344.39V348.69" stroke="#474747" stroke-width="1.35" fill="none"/>
<rect x="491.4" y="343.27" width="111.1" height="6.54" fill="#10b090" stroke="#383838" stroke-width="1.1"/>
<line x1="559.8" y1="343.27" x2="559.8" y2="349.81" stroke="#383838" stroke-width="1.0"/>
<path d="M540.4 346.54L542.4 344.44L544.4 346.54L542.4 348.64Z" fill="#f00000" stroke="#1a0000" stroke-width="0.8"/>
<path d="M411.5 355.9H475.5M586.5 355.9H638.4M411.5 353.75V358.05M638.4 353.75V358.05" stroke="#474747" stroke-width="1.35" fill="none"/>
<rect x="475.5" y="352.63" width="111" height="6.54" fill="#10b0a0" stroke="#383838" stroke-width="1.1"/>
<line x1="559.8" y1="352.63" x2="559.8" y2="359.17" stroke="#383838" stroke-width="1.0"/>
<path d="M536.2 355.9L538.2 353.8L540.2 355.9L538.2 358Z" fill="#f00000" stroke="#1a0000" stroke-width="0.8"/>
<path d="M400.6 365.26H489.6M566.8 365.26H643.1M400.6 363.11V367.41M643.1 363.11V367.41" stroke="#474747" stroke-width="1.35" fill="none"/>
<rect x="489.6" y="361.99" width="77.2" height="6.54" fill="#10b0b0" stroke="#383838" stroke-width="1.1"/>
<line x1="549.7" y1="361.99" x2="549.7" y2="368.53" stroke="#383838" stroke-width="1.0"/>
<path d="M534.1 365.26L536.1 363.16L538.1 365.26L536.1 367.36Z" fill="#f00000" stroke="#1a0000" stroke-width="0.8"/>
<path d="M430.4 374.62H478.2M588.2 374.62H639.5M430.4 372.47V376.77M639.5 372.47V376.77" stroke="#474747" stroke-width="1.35" fill="none"/>
<rect x="478.2" y="371.35" width="110" height="6.54" fill="#10a8c0" stroke="#383838" stroke-width="1.1"/>
<line x1="535" y1="371.35" x2="535" y2="377.89" stroke="#383838" stroke-width="1.0"/>
<path d="M531.6 374.62L533.6 372.52L535.6 374.62L533.6 376.72Z" fill="#f00000" stroke="#1a0000" stroke-width="0.8"/>
<path d="M417.4 383.98H485M593.9 383.98H621.1M417.4 381.83V386.13M621.1 381.83V386.13" stroke="#474747" stroke-width="1.35" fill="none"/>
<rect x="485" y="380.71" width="108.9" height="6.54" fill="#18a8d0" stroke="#383838" stroke-width="1.1"/>
<line x1="543.5" y1="380.71" x2="543.5" y2="387.25" stroke="#383838" stroke-width="1.0"/>
<path d="M531.2 383.98L533.2 381.88L535.2 383.98L533.2 386.08Z" fill="#f00000" stroke="#1a0000" stroke-width="0.8"/>
<path d="M394.3 393.34H488.1M574.5 393.34H637.2M394.3 391.19V395.49M637.2 391.19V395.49" stroke="#474747" stroke-width="1.35" fill="none"/>
<rect x="488.1" y="390.07" width="86.4" height="6.54" fill="#40b0f0" stroke="#383838" stroke-width="1.1"/>
<line x1="546.6" y1="390.07" x2="546.6" y2="396.61" stroke="#383838" stroke-width="1.0"/>
<path d="M527 393.34L529 391.24L531 393.34L529 395.44Z" fill="#f00000" stroke="#1a0000" stroke-width="0.8"/>
<path d="M401.4 402.7H462.3M598.7 402.7H653.4M401.4 400.55V404.85M653.4 400.55V404.85" stroke="#474747" stroke-width="1.35" fill="none"/>
<rect x="462.3" y="399.43" width="136.4" height="6.54" fill="#a0b0f0" stroke="#383838" stroke-width="1.1"/>
<line x1="507.2" y1="399.43" x2="507.2" y2="405.97" stroke="#383838" stroke-width="1.0"/>
<path d="M524.2 402.7L526.2 400.6L528.2 402.7L526.2 404.8Z" fill="#f00000" stroke="#1a0000" stroke-width="0.8"/>
<path d="M403.1 412.06H482.4M560.9 412.06H629.9M403.1 409.91V414.21M629.9 409.91V414.21" stroke="#474747" stroke-width="1.35" fill="none"/>
<rect x="482.4" y="408.79" width="78.5" height="6.54" fill="#c0a0f0" stroke="#383838" stroke-width="1.1"/>
<line x1="529.4" y1="408.79" x2="529.4" y2="415.33" stroke="#383838" stroke-width="1.0"/>
<path d="M521.1 412.06L523.1 409.96L525.1 412.06L523.1 414.16Z" fill="#f00000" stroke="#1a0000" stroke-width="0.8"/>
<path d="M401 421.42H481.5M575 421.42H627.3M401 419.27V423.57M627.3 419.27V423.57" stroke="#474747" stroke-width="1.35" fill="none"/>
<rect x="481.5" y="418.15" width="93.5" height="6.54" fill="#e098e8" stroke="#383838" stroke-width="1.1"/>
<line x1="506.7" y1="418.15" x2="506.7" y2="424.69" stroke="#383838" stroke-width="1.0"/>
<path d="M514 421.42L516 419.32L518 421.42L516 423.52Z" fill="#f00000" stroke="#1a0000" stroke-width="0.8"/>
<path d="M402.2 430.78H471.8M550.7 430.78H619.1M402.2 428.63V432.93M619.1 428.63V432.93" stroke="#474747" stroke-width="1.35" fill="none"/>
<rect x="471.8" y="427.51" width="78.9" height="6.54" fill="#f088f0" stroke="#383838" stroke-width="1.1"/>
<line x1="504.7" y1="427.51" x2="504.7" y2="434.05" stroke="#383838" stroke-width="1.0"/>
<path d="M511.9 430.78L513.9 428.68L515.9 430.78L513.9 432.88Z" fill="#f00000" stroke="#1a0000" stroke-width="0.8"/>
<path d="M389.7 440.14H452.6M541.4 440.14H652.6M389.7 437.99V442.29M652.6 437.99V442.29" stroke="#474747" stroke-width="1.35" fill="none"/>
<rect x="452.6" y="436.87" width="88.8" height="6.54" fill="#f888c8" stroke="#383838" stroke-width="1.1"/>
<line x1="497.1" y1="436.87" x2="497.1" y2="443.41" stroke="#383838" stroke-width="1.0"/>
<path d="M496.1 440.14L498.1 438.04L500.1 440.14L498.1 442.24Z" fill="#f00000" stroke="#1a0000" stroke-width="0.8"/>
<path d="M395.4 449.5H424.5M565.3 449.5H634.2M395.4 447.35V451.65M634.2 447.35V451.65" stroke="#474747" stroke-width="1.35" fill="none"/>
<rect x="424.5" y="446.23" width="140.8" height="6.54" fill="#f890b0" stroke="#383838" stroke-width="1.1"/>
<line x1="498" y1="446.23" x2="498" y2="452.77" stroke="#383838" stroke-width="1.0"/>
<path d="M496.1 449.5L498.1 447.4L500.1 449.5L498.1 451.6Z" fill="#f00000" stroke="#1a0000" stroke-width="0.8"/>
<rect x="376.7" y="257.6" width="289.6" height="196.3" fill="none" stroke="#555555" stroke-width="1.0"/>
<line x1="370.7" y1="262.3" x2="376.7" y2="262.3" stroke="#555555" stroke-width="1"/>
<text x="367.9" y="265.3" text-anchor="end" font-size="8.7" fill="#111">bare</text>
<line x1="370.7" y1="271.66" x2="376.7" y2="271.66" stroke="#555555" stroke-width="1"/>
<text x="367.9" y="274.66" text-anchor="end" font-size="8.7" fill="#111">F</text>
<line x1="370.7" y1="281.02" x2="376.7" y2="281.02" stroke="#555555" stroke-width="1"/>
<text x="367.9" y="284.02" text-anchor="end" font-size="8.7" fill="#111">OH</text>
<line x1="370.7" y1="290.38" x2="376.7" y2="290.38" stroke="#555555" stroke-width="1"/>
<text x="367.9" y="293.38" text-anchor="end" font-size="8.7" fill="#111">HCO</text>
<line x1="370.7" y1="299.74" x2="376.7" y2="299.74" stroke="#555555" stroke-width="1"/>
<text x="367.9" y="302.74" text-anchor="end" font-size="8.7" fill="#111">Cl</text>
<line x1="370.7" y1="309.1" x2="376.7" y2="309.1" stroke="#555555" stroke-width="1"/>
<text x="367.9" y="312.1" text-anchor="end" font-size="8.7" fill="#111">Me</text>
<line x1="370.7" y1="318.46" x2="376.7" y2="318.46" stroke="#555555" stroke-width="1"/>
<text x="367.9" y="321.46" text-anchor="end" font-size="8.7" fill="#111">NH2</text>
<line x1="370.7" y1="327.82" x2="376.7" y2="327.82" stroke="#555555" stroke-width="1"/>
<text x="367.9" y="330.82" text-anchor="end" font-size="8.7" fill="#111">OMe</text>
<line x1="370.7" y1="337.18" x2="376.7" y2="337.18" stroke="#555555" stroke-width="1"/>
<text x="367.9" y="340.18" text-anchor="end" font-size="8.7" fill="#111">CN</text>
<line x1="370.7" y1="346.54" x2="376.7" y2="346.54" stroke="#555555" stroke-width="1"/>
<text x="367.9" y="349.54" text-anchor="end" font-size="8.7" fill="#111">I</text>
<line x1="370.7" y1="355.9" x2="376.7" y2="355.9" stroke="#555555" stroke-width="1"/>
<text x="367.9" y="358.9" text-anchor="end" font-size="8.7" fill="#111">Br</text>
<line x1="370.7" y1="365.26" x2="376.7" y2="365.26" stroke="#555555" stroke-width="1"/>
<text x="367.9" y="368.26" text-anchor="end" font-size="8.7" fill="#111">NO2</text>
<line x1="370.7" y1="374.62" x2="376.7" y2="374.62" stroke="#555555" stroke-width="1"/>
<text x="367.9" y="377.62" text-anchor="end" font-size="8.7" fill="#111">NHMe</text>
<line x1="370.7" y1="383.98" x2="376.7" y2="383.98" stroke="#555555" stroke-width="1"/>
<text x="367.9" y="386.98" text-anchor="end" font-size="8.7" fill="#111">OEt</text>
<line x1="370.7" y1="393.34" x2="376.7" y2="393.34" stroke="#555555" stroke-width="1"/>
<text x="367.9" y="396.34" text-anchor="end" font-size="8.7" fill="#111">COOH</text>
<line x1="370.7" y1="402.7" x2="376.7" y2="402.7" stroke="#555555" stroke-width="1"/>
<text x="367.9" y="405.7" text-anchor="end" font-size="8.7" fill="#111">SO3H</text>
<line x1="370.7" y1="412.06" x2="376.7" y2="412.06" stroke="#555555" stroke-width="1"/>
<text x="367.9" y="415.06" text-anchor="end" font-size="8.7" fill="#111">Et</text>
<line x1="370.7" y1="421.42" x2="376.7" y2="421.42" stroke="#555555" stroke-width="1"/>
<text x="367.9" y="424.42" text-anchor="end" font-size="8.7" fill="#111">Pr</text>
<line x1="370.7" y1="430.78" x2="376.7" y2="430.78" stroke="#555555" stroke-width="1"/>
<text x="367.9" y="433.78" text-anchor="end" font-size="8.7" fill="#111">Ph</text>
<line x1="370.7" y1="440.14" x2="376.7" y2="440.14" stroke="#555555" stroke-width="1"/>
<text x="367.9" y="443.14" text-anchor="end" font-size="8.7" fill="#111">mixed</text>
<line x1="370.7" y1="449.5" x2="376.7" y2="449.5" stroke="#555555" stroke-width="1"/>
<text x="367.9" y="452.5" text-anchor="end" font-size="8.7" fill="#111">OPr</text>
<line x1="380.5" y1="453.9" x2="380.5" y2="459.4" stroke="#555555" stroke-width="1"/>
<text x="380.5" y="471.4" text-anchor="middle" font-size="11.6" fill="#111">4.0</text>
<line x1="417" y1="453.9" x2="417" y2="459.4" stroke="#555555" stroke-width="1"/>
<text x="417" y="471.4" text-anchor="middle" font-size="11.6" fill="#111">4.5</text>
<line x1="453.5" y1="453.9" x2="453.5" y2="459.4" stroke="#555555" stroke-width="1"/>
<text x="453.5" y="471.4" text-anchor="middle" font-size="11.6" fill="#111">5.0</text>
<line x1="490" y1="453.9" x2="490" y2="459.4" stroke="#555555" stroke-width="1"/>
<text x="490" y="471.4" text-anchor="middle" font-size="11.6" fill="#111">5.5</text>
<line x1="526.5" y1="453.9" x2="526.5" y2="459.4" stroke="#555555" stroke-width="1"/>
<text x="526.5" y="471.4" text-anchor="middle" font-size="11.6" fill="#111">6.0</text>
<line x1="563" y1="453.9" x2="563" y2="459.4" stroke="#555555" stroke-width="1"/>
<text x="563" y="471.4" text-anchor="middle" font-size="11.6" fill="#111">6.5</text>
<line x1="599.5" y1="453.9" x2="599.5" y2="459.4" stroke="#555555" stroke-width="1"/>
<text x="599.5" y="471.4" text-anchor="middle" font-size="11.6" fill="#111">7.0</text>
<line x1="636" y1="453.9" x2="636" y2="459.4" stroke="#555555" stroke-width="1"/>
<text x="636" y="471.4" text-anchor="middle" font-size="11.6" fill="#111">7.5</text>
<text x="495.7" y="491.9" font-weight="bold" font-size="14.5" fill="#111">PLD (Å)</text>
<line x1="35.5" y1="519.45" x2="324.5" y2="519.45" stroke="#ebebeb" stroke-width="0.8"/>
<line x1="35.5" y1="528.79" x2="324.5" y2="528.79" stroke="#ebebeb" stroke-width="0.8"/>
<line x1="35.5" y1="538.12" x2="324.5" y2="538.12" stroke="#ebebeb" stroke-width="0.8"/>
<line x1="35.5" y1="547.46" x2="324.5" y2="547.46" stroke="#ebebeb" stroke-width="0.8"/>
<line x1="35.5" y1="556.8" x2="324.5" y2="556.8" stroke="#ebebeb" stroke-width="0.8"/>
<line x1="35.5" y1="566.14" x2="324.5" y2="566.14" stroke="#ebebeb" stroke-width="0.8"/>
<line x1="35.5" y1="575.48" x2="324.5" y2="575.48" stroke="#ebebeb" stroke-width="0.8"/>
<line x1="35.5" y1="584.81" x2="324.5" y2="584.81" stroke="#ebebeb" stroke-width="0.8"/>
<line x1="35.5" y1="594.15" x2="324.5" y2="594.15" stroke="#ebebeb" stroke-width="0.8"/>
<line x1="35.5" y1="603.49" x2="324.5" y2="603.49" stroke="#ebebeb" stroke-width="0.8"/>
<line x1="35.5" y1="612.83" x2="324.5" y2="612.83" stroke="#ebebeb" stroke-width="0.8"/>
<line x1="35.5" y1="622.16" x2="324.5" y2="622.16" stroke="#ebebeb" stroke-width="0.8"/>
<line x1="35.5" y1="631.5" x2="324.5" y2="631.5" stroke="#ebebeb" stroke-width="0.8"/>
<line x1="35.5" y1="640.84" x2="324.5" y2="640.84" stroke="#ebebeb" stroke-width="0.8"/>
<line x1="35.5" y1="650.18" x2="324.5" y2="650.18" stroke="#ebebeb" stroke-width="0.8"/>
<line x1="35.5" y1="659.51" x2="324.5" y2="659.51" stroke="#ebebeb" stroke-width="0.8"/>
<line x1="35.5" y1="668.85" x2="324.5" y2="668.85" stroke="#ebebeb" stroke-width="0.8"/>
<line x1="35.5" y1="678.19" x2="324.5" y2="678.19" stroke="#ebebeb" stroke-width="0.8"/>
<line x1="35.5" y1="687.53" x2="324.5" y2="687.53" stroke="#ebebeb" stroke-width="0.8"/>
<line x1="35.5" y1="696.86" x2="324.5" y2="696.86" stroke="#ebebeb" stroke-width="0.8"/>
<line x1="35.5" y1="706.2" x2="324.5" y2="706.2" stroke="#ebebeb" stroke-width="0.8"/>
<path d="M195.1 519.45H217.6M281 519.45H302.9M195.1 517.31V521.59M302.9 517.31V521.59" stroke="#474747" stroke-width="1.35" fill="none"/>
<rect x="217.6" y="516.2" width="63.4" height="6.5" fill="#f59eae" stroke="#383838" stroke-width="1.1"/>
<line x1="235" y1="516.2" x2="235" y2="522.7" stroke="#383838" stroke-width="1.0"/>
<path d="M243.4 519.45L245.4 517.35L247.4 519.45L245.4 521.55Z" fill="#f00000" stroke="#1a0000" stroke-width="0.8"/>
<path d="M163 528.79H204.2M261.6 528.79H301.2M163 526.65V530.92M301.2 526.65V530.92" stroke="#474747" stroke-width="1.35" fill="none"/>
<rect x="204.2" y="525.54" width="57.4" height="6.5" fill="#f89880" stroke="#383838" stroke-width="1.1"/>
<line x1="228.7" y1="525.54" x2="228.7" y2="532.04" stroke="#383838" stroke-width="1.0"/>
<path d="M230.9 528.79L232.9 526.69L234.9 528.79L232.9 530.89Z" fill="#f00000" stroke="#1a0000" stroke-width="0.8"/>
<path d="M160.5 538.12H200.4M268.5 538.12H301.2M160.5 535.99V540.26M301.2 535.99V540.26" stroke="#474747" stroke-width="1.35" fill="none"/>
<rect x="200.4" y="534.88" width="68.1" height="6.5" fill="#f0a050" stroke="#383838" stroke-width="1.1"/>
<line x1="232.9" y1="534.88" x2="232.9" y2="541.38" stroke="#383838" stroke-width="1.0"/>
<path d="M230.9 538.12L232.9 536.02L234.9 538.12L232.9 540.23Z" fill="#f00000" stroke="#1a0000" stroke-width="0.8"/>
<path d="M168.3 547.46H203.5M248.2 547.46H311.6M168.3 545.33V549.6M311.6 545.33V549.6" stroke="#474747" stroke-width="1.35" fill="none"/>
<rect x="203.5" y="544.21" width="44.7" height="6.5" fill="#d4a048" stroke="#383838" stroke-width="1.1"/>
<line x1="219.3" y1="544.21" x2="219.3" y2="550.71" stroke="#383838" stroke-width="1.0"/>
<path d="M224.6 547.46L226.6 545.36L228.6 547.46L226.6 549.56Z" fill="#f00000" stroke="#1a0000" stroke-width="0.8"/>
<path d="M158.1 556.8H202.9M248.2 556.8H294.8M158.1 554.66V558.94M294.8 554.66V558.94" stroke="#474747" stroke-width="1.35" fill="none"/>
<rect x="202.9" y="553.55" width="45.3" height="6.5" fill="#b0a040" stroke="#383838" stroke-width="1.1"/>
<line x1="215.5" y1="553.55" x2="215.5" y2="560.05" stroke="#383838" stroke-width="1.0"/>
<path d="M220.8 556.8L222.8 554.7L224.8 556.8L222.8 558.9Z" fill="#f00000" stroke="#1a0000" stroke-width="0.8"/>
<path d="M124.2 566.14H181.9M248.7 566.14H274.4M124.2 564V568.27M274.4 564V568.27" stroke="#474747" stroke-width="1.35" fill="none"/>
<rect x="181.9" y="562.89" width="66.8" height="6.5" fill="#a0a838" stroke="#383838" stroke-width="1.1"/>
<line x1="222.4" y1="562.89" x2="222.4" y2="569.39" stroke="#383838" stroke-width="1.0"/>
<path d="M212.7 566.14L214.7 564.04L216.7 566.14L214.7 568.24Z" fill="#f00000" stroke="#1a0000" stroke-width="0.8"/>
<path d="M144.7 575.48H188.6M235 575.48H298.1M144.7 573.34V577.61M298.1 573.34V577.61" stroke="#474747" stroke-width="1.35" fill="none"/>
<rect x="188.6" y="572.23" width="46.4" height="6.5" fill="#80b040" stroke="#383838" stroke-width="1.1"/>
<line x1="207.5" y1="572.23" x2="207.5" y2="578.73" stroke="#383838" stroke-width="1.0"/>
<circle cx="114.7" cy="575.48" r="1.75" fill="none" stroke="#7c7c7c" stroke-width="0.8"/>
<path d="M210.6 575.48L212.6 573.38L214.6 575.48L212.6 577.58Z" fill="#f00000" stroke="#1a0000" stroke-width="0.8"/>
<path d="M137.4 584.81H173.5M241.7 584.81H284.3M137.4 582.68V586.95M284.3 582.68V586.95" stroke="#474747" stroke-width="1.35" fill="none"/>
<rect x="173.5" y="581.56" width="68.2" height="6.5" fill="#10c030" stroke="#383838" stroke-width="1.1"/>
<line x1="216.1" y1="581.56" x2="216.1" y2="588.06" stroke="#383838" stroke-width="1.0"/>
<path d="M208.2 584.81L210.2 582.71L212.2 584.81L210.2 586.91Z" fill="#f00000" stroke="#1a0000" stroke-width="0.8"/>
<path d="M99 594.15H180.9M242.4 594.15H286.3M99 592.01V596.29M286.3 592.01V596.29" stroke="#474747" stroke-width="1.35" fill="none"/>
<rect x="180.9" y="590.9" width="61.5" height="6.5" fill="#10a870" stroke="#383838" stroke-width="1.1"/>
<line x1="212.3" y1="590.9" x2="212.3" y2="597.4" stroke="#383838" stroke-width="1.0"/>
<path d="M207.2 594.15L209.2 592.05L211.2 594.15L209.2 596.25Z" fill="#f00000" stroke="#1a0000" stroke-width="0.8"/>
<path d="M138.9 603.49H185.3M235.4 603.49H282.9M138.9 601.35V605.62M282.9 601.35V605.62" stroke="#474747" stroke-width="1.35" fill="none"/>
<rect x="185.3" y="600.24" width="50.1" height="6.5" fill="#10b090" stroke="#383838" stroke-width="1.1"/>
<line x1="200" y1="600.24" x2="200" y2="606.74" stroke="#383838" stroke-width="1.0"/>
<circle cx="105.9" cy="603.49" r="1.75" fill="none" stroke="#7c7c7c" stroke-width="0.8"/>
<circle cx="310.7" cy="603.49" r="1.75" fill="none" stroke="#7c7c7c" stroke-width="0.8"/>
<path d="M206.8 603.49L208.8 601.39L210.8 603.49L208.8 605.59Z" fill="#f00000" stroke="#1a0000" stroke-width="0.8"/>
<path d="M136.1 612.83H180M221.8 612.83H281.6M136.1 610.69V614.96M281.6 610.69V614.96" stroke="#474747" stroke-width="1.35" fill="none"/>
<rect x="180" y="609.58" width="41.8" height="6.5" fill="#10b0a0" stroke="#383838" stroke-width="1.1"/>
<line x1="205" y1="609.58" x2="205" y2="616.08" stroke="#383838" stroke-width="1.0"/>
<circle cx="294.8" cy="612.83" r="1.75" fill="none" stroke="#7c7c7c" stroke-width="0.8"/>
<path d="M204.3 612.83L206.3 610.73L208.3 612.83L206.3 614.93Z" fill="#f00000" stroke="#1a0000" stroke-width="0.8"/>
<path d="M112 622.16H174.6M219.7 622.16H275.5M112 620.03V624.3M275.5 620.03V624.3" stroke="#474747" stroke-width="1.35" fill="none"/>
<rect x="174.6" y="618.91" width="45.1" height="6.5" fill="#10b0b0" stroke="#383838" stroke-width="1.1"/>
<line x1="194.5" y1="618.91" x2="194.5" y2="625.41" stroke="#383838" stroke-width="1.0"/>
<path d="M195.6 622.16L197.6 620.06L199.6 622.16L197.6 624.26Z" fill="#f00000" stroke="#1a0000" stroke-width="0.8"/>
<path d="M109.5 631.5H164.5M223 631.5H289.6M109.5 629.36V633.64M289.6 629.36V633.64" stroke="#474747" stroke-width="1.35" fill="none"/>
<rect x="164.5" y="628.25" width="58.5" height="6.5" fill="#10a8c0" stroke="#383838" stroke-width="1.1"/>
<line x1="196" y1="628.25" x2="196" y2="634.75" stroke="#383838" stroke-width="1.0"/>
<path d="M194.6 631.5L196.6 629.4L198.6 631.5L196.6 633.6Z" fill="#f00000" stroke="#1a0000" stroke-width="0.8"/>
<path d="M111.1 640.84H171M214.4 640.84H277M111.1 638.7V642.97M277 638.7V642.97" stroke="#474747" stroke-width="1.35" fill="none"/>
<rect x="171" y="637.59" width="43.4" height="6.5" fill="#18a8d0" stroke="#383838" stroke-width="1.1"/>
<line x1="192" y1="637.59" x2="192" y2="644.09" stroke="#383838" stroke-width="1.0"/>
<path d="M190.4 640.84L192.4 638.74L194.4 640.84L192.4 642.94Z" fill="#f00000" stroke="#1a0000" stroke-width="0.8"/>
<path d="M101.7 650.18H153.1M220.3 650.18H247.6M101.7 648.04V652.31M247.6 648.04V652.31" stroke="#474747" stroke-width="1.35" fill="none"/>
<rect x="153.1" y="646.93" width="67.2" height="6.5" fill="#40b0f0" stroke="#383838" stroke-width="1.1"/>
<line x1="180.4" y1="646.93" x2="180.4" y2="653.43" stroke="#383838" stroke-width="1.0"/>
<path d="M178 650.18L180 648.08L182 650.18L180 652.28Z" fill="#f00000" stroke="#1a0000" stroke-width="0.8"/>
<path d="M87.4 659.51H146.2M207.7 659.51H269M87.4 657.38V661.65M269 657.38V661.65" stroke="#474747" stroke-width="1.35" fill="none"/>
<rect x="146.2" y="656.26" width="61.5" height="6.5" fill="#a0b0f0" stroke="#383838" stroke-width="1.1"/>
<line x1="180.4" y1="656.26" x2="180.4" y2="662.76" stroke="#383838" stroke-width="1.0"/>
<path d="M176.3 659.51L178.3 657.41L180.3 659.51L178.3 661.61Z" fill="#f00000" stroke="#1a0000" stroke-width="0.8"/>
<path d="M74.4 668.85H150.4M201.4 668.85H256.4M74.4 666.71V670.99M256.4 666.71V670.99" stroke="#474747" stroke-width="1.35" fill="none"/>
<rect x="150.4" y="665.6" width="51" height="6.5" fill="#c0a0f0" stroke="#383838" stroke-width="1.1"/>
<line x1="175" y1="665.6" x2="175" y2="672.1" stroke="#383838" stroke-width="1.0"/>
<path d="M173.2 668.85L175.2 666.75L177.2 668.85L175.2 670.95Z" fill="#f00000" stroke="#1a0000" stroke-width="0.8"/>
<path d="M65 678.19H136.3M210.2 678.19H264.4M65 676.05V680.32M264.4 676.05V680.32" stroke="#474747" stroke-width="1.35" fill="none"/>
<rect x="136.3" y="674.94" width="73.9" height="6.5" fill="#e098e8" stroke="#383838" stroke-width="1.1"/>
<line x1="187.4" y1="674.94" x2="187.4" y2="681.44" stroke="#383838" stroke-width="1.0"/>
<path d="M172.1 678.19L174.1 676.09L176.1 678.19L174.1 680.29Z" fill="#f00000" stroke="#1a0000" stroke-width="0.8"/>
<path d="M99 687.53H142.4M209.6 687.53H250.6M99 685.39V689.66M250.6 685.39V689.66" stroke="#474747" stroke-width="1.35" fill="none"/>
<rect x="142.4" y="684.28" width="67.2" height="6.5" fill="#f088f0" stroke="#383838" stroke-width="1.1"/>
<line x1="173.5" y1="684.28" x2="173.5" y2="690.78" stroke="#383838" stroke-width="1.0"/>
<path d="M171.5 687.53L173.5 685.43L175.5 687.53L173.5 689.63Z" fill="#f00000" stroke="#1a0000" stroke-width="0.8"/>
<path d="M48.3 696.86H126.7M189.5 696.86H275.4M48.3 694.73V699M275.4 694.73V699" stroke="#474747" stroke-width="1.35" fill="none"/>
<rect x="126.7" y="693.61" width="62.8" height="6.5" fill="#f888c8" stroke="#383838" stroke-width="1.1"/>
<line x1="156.8" y1="693.61" x2="156.8" y2="700.11" stroke="#383838" stroke-width="1.0"/>
<circle cx="297" cy="696.86" r="1.75" fill="none" stroke="#7c7c7c" stroke-width="0.8"/>
<path d="M156.4 696.86L158.4 694.76L160.4 696.86L158.4 698.96Z" fill="#f00000" stroke="#1a0000" stroke-width="0.8"/>
<path d="M63.4 706.2H114.6M187.4 706.2H244.9M63.4 704.06V708.34M244.9 704.06V708.34" stroke="#474747" stroke-width="1.35" fill="none"/>
<rect x="114.6" y="702.95" width="72.8" height="6.5" fill="#f890b0" stroke="#383838" stroke-width="1.1"/>
<line x1="153" y1="702.95" x2="153" y2="709.45" stroke="#383838" stroke-width="1.0"/>
<path d="M147.4 706.2L149.4 704.1L151.4 706.2L149.4 708.3Z" fill="#f00000" stroke="#1a0000" stroke-width="0.8"/>
<rect x="35.5" y="515.4" width="289" height="195" fill="none" stroke="#555555" stroke-width="1.0"/>
<line x1="29.5" y1="519.45" x2="35.5" y2="519.45" stroke="#555555" stroke-width="1"/>
<text x="26.7" y="522.45" text-anchor="end" font-size="8.7" fill="#111">bare</text>
<line x1="29.5" y1="528.79" x2="35.5" y2="528.79" stroke="#555555" stroke-width="1"/>
<text x="26.7" y="531.79" text-anchor="end" font-size="8.7" fill="#111">OH</text>
<line x1="29.5" y1="538.12" x2="35.5" y2="538.12" stroke="#555555" stroke-width="1"/>
<text x="26.7" y="541.12" text-anchor="end" font-size="8.7" fill="#111">Me</text>
<line x1="29.5" y1="547.46" x2="35.5" y2="547.46" stroke="#555555" stroke-width="1"/>
<text x="26.7" y="550.46" text-anchor="end" font-size="8.7" fill="#111">NH2</text>
<line x1="29.5" y1="556.8" x2="35.5" y2="556.8" stroke="#555555" stroke-width="1"/>
<text x="26.7" y="559.8" text-anchor="end" font-size="8.7" fill="#111">F</text>
<line x1="29.5" y1="566.14" x2="35.5" y2="566.14" stroke="#555555" stroke-width="1"/>
<text x="26.7" y="569.14" text-anchor="end" font-size="8.7" fill="#111">Et</text>
<line x1="29.5" y1="575.48" x2="35.5" y2="575.48" stroke="#555555" stroke-width="1"/>
<text x="26.7" y="578.48" text-anchor="end" font-size="8.7" fill="#111">HCO</text>
<line x1="29.5" y1="584.81" x2="35.5" y2="584.81" stroke="#555555" stroke-width="1"/>
<text x="26.7" y="587.81" text-anchor="end" font-size="8.7" fill="#111">NHMe</text>
<line x1="29.5" y1="594.15" x2="35.5" y2="594.15" stroke="#555555" stroke-width="1"/>
<text x="26.7" y="597.15" text-anchor="end" font-size="8.7" fill="#111">OMe</text>
<line x1="29.5" y1="603.49" x2="35.5" y2="603.49" stroke="#555555" stroke-width="1"/>
<text x="26.7" y="606.49" text-anchor="end" font-size="8.7" fill="#111">CN</text>
<line x1="29.5" y1="612.83" x2="35.5" y2="612.83" stroke="#555555" stroke-width="1"/>
<text x="26.7" y="615.83" text-anchor="end" font-size="8.7" fill="#111">Cl</text>
<line x1="29.5" y1="622.16" x2="35.5" y2="622.16" stroke="#555555" stroke-width="1"/>
<text x="26.7" y="625.16" text-anchor="end" font-size="8.7" fill="#111">NO2</text>
<line x1="29.5" y1="631.5" x2="35.5" y2="631.5" stroke="#555555" stroke-width="1"/>
<text x="26.7" y="634.5" text-anchor="end" font-size="8.7" fill="#111">COOH</text>
<line x1="29.5" y1="640.84" x2="35.5" y2="640.84" stroke="#555555" stroke-width="1"/>
<text x="26.7" y="643.84" text-anchor="end" font-size="8.7" fill="#111">OEt</text>
<line x1="29.5" y1="650.18" x2="35.5" y2="650.18" stroke="#555555" stroke-width="1"/>
<text x="26.7" y="653.18" text-anchor="end" font-size="8.7" fill="#111">Ph</text>
<line x1="29.5" y1="659.51" x2="35.5" y2="659.51" stroke="#555555" stroke-width="1"/>
<text x="26.7" y="662.51" text-anchor="end" font-size="8.7" fill="#111">OPr</text>
<line x1="29.5" y1="668.85" x2="35.5" y2="668.85" stroke="#555555" stroke-width="1"/>
<text x="26.7" y="671.85" text-anchor="end" font-size="8.7" fill="#111">SO3H</text>
<line x1="29.5" y1="678.19" x2="35.5" y2="678.19" stroke="#555555" stroke-width="1"/>
<text x="26.7" y="681.19" text-anchor="end" font-size="8.7" fill="#111">Br</text>
<line x1="29.5" y1="687.53" x2="35.5" y2="687.53" stroke="#555555" stroke-width="1"/>
<text x="26.7" y="690.53" text-anchor="end" font-size="8.7" fill="#111">Pr</text>
<line x1="29.5" y1="696.86" x2="35.5" y2="696.86" stroke="#555555" stroke-width="1"/>
<text x="26.7" y="699.86" text-anchor="end" font-size="8.7" fill="#111">mixed</text>
<line x1="29.5" y1="706.2" x2="35.5" y2="706.2" stroke="#555555" stroke-width="1"/>
<text x="26.7" y="709.2" text-anchor="end" font-size="8.7" fill="#111">I</text>
<line x1="90.3" y1="710.4" x2="90.3" y2="715.9" stroke="#555555" stroke-width="1"/>
<text x="90.3" y="727.6" text-anchor="middle" font-size="11.6" fill="#111">1000</text>
<line x1="152.4" y1="710.4" x2="152.4" y2="715.9" stroke="#555555" stroke-width="1"/>
<text x="152.4" y="727.6" text-anchor="middle" font-size="11.6" fill="#111">2000</text>
<line x1="214.5" y1="710.4" x2="214.5" y2="715.9" stroke="#555555" stroke-width="1"/>
<text x="214.5" y="727.6" text-anchor="middle" font-size="11.6" fill="#111">3000</text>
<line x1="276.5" y1="710.4" x2="276.5" y2="715.9" stroke="#555555" stroke-width="1"/>
<text x="276.5" y="727.6" text-anchor="middle" font-size="11.6" fill="#111">4000</text>
<text x="149.7" y="749.3" font-weight="bold" font-size="15" fill="#111">SA(m</text><text x="187.2" y="743.3" font-weight="bold" font-size="10" fill="#111">2</text><text x="193.2" y="749.3" font-weight="bold" font-size="15" fill="#111">/g)</text>
<line x1="376.7" y1="519.7" x2="666.3" y2="519.7" stroke="#ebebeb" stroke-width="0.8"/>
<line x1="376.7" y1="529.27" x2="666.3" y2="529.27" stroke="#ebebeb" stroke-width="0.8"/>
<line x1="376.7" y1="538.84" x2="666.3" y2="538.84" stroke="#ebebeb" stroke-width="0.8"/>
<line x1="376.7" y1="548.4" x2="666.3" y2="548.4" stroke="#ebebeb" stroke-width="0.8"/>
<line x1="376.7" y1="557.97" x2="666.3" y2="557.97" stroke="#ebebeb" stroke-width="0.8"/>
<line x1="376.7" y1="567.54" x2="666.3" y2="567.54" stroke="#ebebeb" stroke-width="0.8"/>
<line x1="376.7" y1="577.11" x2="666.3" y2="577.11" stroke="#ebebeb" stroke-width="0.8"/>
<line x1="376.7" y1="586.67" x2="666.3" y2="586.67" stroke="#ebebeb" stroke-width="0.8"/>
<line x1="376.7" y1="596.24" x2="666.3" y2="596.24" stroke="#ebebeb" stroke-width="0.8"/>
<line x1="376.7" y1="605.81" x2="666.3" y2="605.81" stroke="#ebebeb" stroke-width="0.8"/>
<line x1="376.7" y1="615.38" x2="666.3" y2="615.38" stroke="#ebebeb" stroke-width="0.8"/>
<line x1="376.7" y1="624.94" x2="666.3" y2="624.94" stroke="#ebebeb" stroke-width="0.8"/>
<line x1="376.7" y1="634.51" x2="666.3" y2="634.51" stroke="#ebebeb" stroke-width="0.8"/>
<line x1="376.7" y1="644.08" x2="666.3" y2="644.08" stroke="#ebebeb" stroke-width="0.8"/>
<line x1="376.7" y1="653.64" x2="666.3" y2="653.64" stroke="#ebebeb" stroke-width="0.8"/>
<line x1="376.7" y1="663.21" x2="666.3" y2="663.21" stroke="#ebebeb" stroke-width="0.8"/>
<line x1="376.7" y1="672.78" x2="666.3" y2="672.78" stroke="#ebebeb" stroke-width="0.8"/>
<line x1="376.7" y1="682.35" x2="666.3" y2="682.35" stroke="#ebebeb" stroke-width="0.8"/>
<line x1="376.7" y1="691.91" x2="666.3" y2="691.91" stroke="#ebebeb" stroke-width="0.8"/>
<line x1="376.7" y1="701.48" x2="666.3" y2="701.48" stroke="#ebebeb" stroke-width="0.8"/>
<line x1="376.7" y1="711.05" x2="666.3" y2="711.05" stroke="#ebebeb" stroke-width="0.8"/>
<path d="M594.4 519.7H614.6M640.4 519.7H653.3M594.4 517.51V521.89M653.3 517.51V521.89" stroke="#474747" stroke-width="1.35" fill="none"/>
<rect x="614.6" y="516.37" width="25.8" height="6.67" fill="#f59eae" stroke="#383838" stroke-width="1.1"/>
<line x1="630.5" y1="516.37" x2="630.5" y2="523.04" stroke="#383838" stroke-width="1.0"/>
<path d="M625.7 519.7L627.7 517.6L629.7 519.7L627.7 521.8Z" fill="#f00000" stroke="#1a0000" stroke-width="0.8"/>
<path d="M576.2 529.27H606.7M628.6 529.27H647.6M576.2 527.08V531.46M647.6 527.08V531.46" stroke="#474747" stroke-width="1.35" fill="none"/>
<rect x="606.7" y="525.93" width="21.9" height="6.67" fill="#f89880" stroke="#383838" stroke-width="1.1"/>
<line x1="616" y1="525.93" x2="616" y2="532.6" stroke="#383838" stroke-width="1.0"/>
<circle cx="567.5" cy="529.27" r="1.75" fill="none" stroke="#7c7c7c" stroke-width="0.8"/>
<path d="M613.4 529.27L615.4 527.17L617.4 529.27L615.4 531.37Z" fill="#f00000" stroke="#1a0000" stroke-width="0.8"/>
<path d="M564.1 538.84H597.2M629.1 538.84H643.4M564.1 536.64V541.03M643.4 536.64V541.03" stroke="#474747" stroke-width="1.35" fill="none"/>
<rect x="597.2" y="535.5" width="31.9" height="6.67" fill="#f0a050" stroke="#383838" stroke-width="1.1"/>
<line x1="620.2" y1="535.5" x2="620.2" y2="542.17" stroke="#383838" stroke-width="1.0"/>
<path d="M610.6 538.84L612.6 536.74L614.6 538.84L612.6 540.94Z" fill="#f00000" stroke="#1a0000" stroke-width="0.8"/>
<path d="M553.5 548.4H586.5M626.6 548.4H637.6M553.5 546.21V550.59M637.6 546.21V550.59" stroke="#474747" stroke-width="1.35" fill="none"/>
<rect x="586.5" y="545.07" width="40.1" height="6.67" fill="#d4a048" stroke="#383838" stroke-width="1.1"/>
<line x1="603" y1="545.07" x2="603" y2="551.74" stroke="#383838" stroke-width="1.0"/>
<path d="M601.9 548.4L603.9 546.3L605.9 548.4L603.9 550.5Z" fill="#f00000" stroke="#1a0000" stroke-width="0.8"/>
<path d="M554.3 557.97H588.1M617.9 557.97H634.8M554.3 555.78V560.16M634.8 555.78V560.16" stroke="#474747" stroke-width="1.35" fill="none"/>
<rect x="588.1" y="554.63" width="29.8" height="6.67" fill="#b0a040" stroke="#383838" stroke-width="1.1"/>
<line x1="603.6" y1="554.63" x2="603.6" y2="561.31" stroke="#383838" stroke-width="1.0"/>
<path d="M600 557.97L602 555.87L604 557.97L602 560.07Z" fill="#f00000" stroke="#1a0000" stroke-width="0.8"/>
<path d="M536.5 567.54H580.8M623.5 567.54H639M536.5 565.35V569.73M639 565.35V569.73" stroke="#474747" stroke-width="1.35" fill="none"/>
<rect x="580.8" y="564.2" width="42.7" height="6.67" fill="#a0a838" stroke="#383838" stroke-width="1.1"/>
<line x1="602.6" y1="564.2" x2="602.6" y2="570.87" stroke="#383838" stroke-width="1.0"/>
<path d="M597.5 567.54L599.5 565.44L601.5 567.54L599.5 569.64Z" fill="#f00000" stroke="#1a0000" stroke-width="0.8"/>
<path d="M543.8 577.11H575.5M611.7 577.11H633.6M543.8 574.91V579.3M633.6 574.91V579.3" stroke="#474747" stroke-width="1.35" fill="none"/>
<rect x="575.5" y="573.77" width="36.2" height="6.67" fill="#80b040" stroke="#383838" stroke-width="1.1"/>
<line x1="592.3" y1="573.77" x2="592.3" y2="580.44" stroke="#383838" stroke-width="1.0"/>
<circle cx="500.2" cy="577.11" r="1.75" fill="none" stroke="#7c7c7c" stroke-width="0.8"/>
<circle cx="521.3" cy="577.11" r="1.75" fill="none" stroke="#7c7c7c" stroke-width="0.8"/>
<path d="M590.3 577.11L592.3 575L594.3 577.11L592.3 579.21Z" fill="#f00000" stroke="#1a0000" stroke-width="0.8"/>
<path d="M530.6 586.67H575.3M606.8 586.67H629.2M530.6 584.48V588.86M629.2 584.48V588.86" stroke="#474747" stroke-width="1.35" fill="none"/>
<rect x="575.3" y="583.34" width="31.5" height="6.67" fill="#10c030" stroke="#383838" stroke-width="1.1"/>
<line x1="593.8" y1="583.34" x2="593.8" y2="590.01" stroke="#383838" stroke-width="1.0"/>
<circle cx="464.8" cy="586.67" r="1.75" fill="none" stroke="#7c7c7c" stroke-width="0.8"/>
<circle cx="511.3" cy="586.67" r="1.75" fill="none" stroke="#7c7c7c" stroke-width="0.8"/>
<path d="M586.3 586.67L588.3 584.57L590.3 586.67L588.3 588.77Z" fill="#f00000" stroke="#1a0000" stroke-width="0.8"/>
<path d="M491.7 596.24H562.3M609.9 596.24H629.2M491.7 594.05V598.43M629.2 594.05V598.43" stroke="#474747" stroke-width="1.35" fill="none"/>
<rect x="562.3" y="592.9" width="47.6" height="6.67" fill="#10a870" stroke="#383838" stroke-width="1.1"/>
<line x1="593.5" y1="592.9" x2="593.5" y2="599.58" stroke="#383838" stroke-width="1.0"/>
<circle cx="462.4" cy="596.24" r="1.75" fill="none" stroke="#7c7c7c" stroke-width="0.8"/>
<path d="M581.3 596.24L583.3 594.14L585.3 596.24L583.3 598.34Z" fill="#f00000" stroke="#1a0000" stroke-width="0.8"/>
<path d="M499.2 605.81H551.6M605.7 605.81H629.9M499.2 603.62V608M629.9 603.62V608" stroke="#474747" stroke-width="1.35" fill="none"/>
<rect x="551.6" y="602.47" width="54.1" height="6.67" fill="#10b090" stroke="#383838" stroke-width="1.1"/>
<line x1="594.8" y1="602.47" x2="594.8" y2="609.14" stroke="#383838" stroke-width="1.0"/>
<path d="M581.3 605.81L583.3 603.71L585.3 605.81L583.3 607.91Z" fill="#f00000" stroke="#1a0000" stroke-width="0.8"/>
<path d="M487.2 615.38H556.3M620.9 615.38H633.7M487.2 613.18V617.57M633.7 613.18V617.57" stroke="#474747" stroke-width="1.35" fill="none"/>
<rect x="556.3" y="612.04" width="64.6" height="6.67" fill="#10b0a0" stroke="#383838" stroke-width="1.1"/>
<line x1="603.5" y1="612.04" x2="603.5" y2="618.71" stroke="#383838" stroke-width="1.0"/>
<circle cx="451.3" cy="615.38" r="1.75" fill="none" stroke="#7c7c7c" stroke-width="0.8"/>
<path d="M580.3 615.38L582.3 613.27L584.3 615.38L582.3 617.48Z" fill="#f00000" stroke="#1a0000" stroke-width="0.8"/>
<path d="M525.2 624.94H569.9M601.6 624.94H625.6M525.2 622.75V627.13M625.6 622.75V627.13" stroke="#474747" stroke-width="1.35" fill="none"/>
<rect x="569.9" y="621.61" width="31.7" height="6.67" fill="#10b0b0" stroke="#383838" stroke-width="1.1"/>
<line x1="589.3" y1="621.61" x2="589.3" y2="628.28" stroke="#383838" stroke-width="1.0"/>
<circle cx="495" cy="624.94" r="1.75" fill="none" stroke="#7c7c7c" stroke-width="0.8"/>
<circle cx="511.1" cy="624.94" r="1.75" fill="none" stroke="#7c7c7c" stroke-width="0.8"/>
<path d="M580.2 624.94L582.2 622.84L584.2 624.94L582.2 627.04Z" fill="#f00000" stroke="#1a0000" stroke-width="0.8"/>
<path d="M515.3 634.51H556.8M605.5 634.51H620.6M515.3 632.32V636.7M620.6 632.32V636.7" stroke="#474747" stroke-width="1.35" fill="none"/>
<rect x="556.8" y="631.17" width="48.7" height="6.67" fill="#10a8c0" stroke="#383838" stroke-width="1.1"/>
<line x1="593.5" y1="631.17" x2="593.5" y2="637.85" stroke="#383838" stroke-width="1.0"/>
<circle cx="481.3" cy="634.51" r="1.75" fill="none" stroke="#7c7c7c" stroke-width="0.8"/>
<path d="M576.9 634.51L578.9 632.41L580.9 634.51L578.9 636.61Z" fill="#f00000" stroke="#1a0000" stroke-width="0.8"/>
<path d="M499.8 644.08H562.5M608.2 644.08H626.9M499.8 641.89V646.27M626.9 641.89V646.27" stroke="#474747" stroke-width="1.35" fill="none"/>
<rect x="562.5" y="640.74" width="45.7" height="6.67" fill="#18a8d0" stroke="#383838" stroke-width="1.1"/>
<line x1="583.9" y1="640.74" x2="583.9" y2="647.41" stroke="#383838" stroke-width="1.0"/>
<circle cx="483" cy="644.08" r="1.75" fill="none" stroke="#7c7c7c" stroke-width="0.8"/>
<circle cx="492.2" cy="644.08" r="1.75" fill="none" stroke="#7c7c7c" stroke-width="0.8"/>
<path d="M574.8 644.08L576.8 641.98L578.8 644.08L576.8 646.18Z" fill="#f00000" stroke="#1a0000" stroke-width="0.8"/>
<path d="M483 653.64H546.3M604.5 653.64H628.6M483 651.45V655.84M628.6 651.45V655.84" stroke="#474747" stroke-width="1.35" fill="none"/>
<rect x="546.3" y="650.31" width="58.2" height="6.67" fill="#40b0f0" stroke="#383838" stroke-width="1.1"/>
<line x1="582.4" y1="650.31" x2="582.4" y2="656.98" stroke="#383838" stroke-width="1.0"/>
<circle cx="451.5" cy="653.64" r="1.75" fill="none" stroke="#7c7c7c" stroke-width="0.8"/>
<path d="M570.3 653.64L572.3 651.54L574.3 653.64L572.3 655.75Z" fill="#f00000" stroke="#1a0000" stroke-width="0.8"/>
<path d="M500.6 663.21H554.5M590.4 663.21H619.8M500.6 661.02V665.4M619.8 661.02V665.4" stroke="#474747" stroke-width="1.35" fill="none"/>
<rect x="554.5" y="659.88" width="35.9" height="6.67" fill="#a0b0f0" stroke="#383838" stroke-width="1.1"/>
<line x1="571.5" y1="659.88" x2="571.5" y2="666.55" stroke="#383838" stroke-width="1.0"/>
<circle cx="474" cy="663.21" r="1.75" fill="none" stroke="#7c7c7c" stroke-width="0.8"/>
<path d="M563.6 663.21L565.6 661.11L567.6 663.21L565.6 665.31Z" fill="#f00000" stroke="#1a0000" stroke-width="0.8"/>
<path d="M492.4 672.78H548.5M592.7 672.78H614.5M492.4 670.59V674.97M614.5 670.59V674.97" stroke="#474747" stroke-width="1.35" fill="none"/>
<rect x="548.5" y="669.44" width="44.2" height="6.67" fill="#c0a0f0" stroke="#383838" stroke-width="1.1"/>
<line x1="572.1" y1="669.44" x2="572.1" y2="676.12" stroke="#383838" stroke-width="1.0"/>
<circle cx="425" cy="672.78" r="1.75" fill="none" stroke="#7c7c7c" stroke-width="0.8"/>
<path d="M563.1 672.78L565.1 670.68L567.1 672.78L565.1 674.88Z" fill="#f00000" stroke="#1a0000" stroke-width="0.8"/>
<path d="M466.1 682.35H532M586.9 682.35H595.5M466.1 680.16V684.54M595.5 680.16V684.54" stroke="#474747" stroke-width="1.35" fill="none"/>
<rect x="532" y="679.01" width="54.9" height="6.67" fill="#e098e8" stroke="#383838" stroke-width="1.1"/>
<line x1="551.2" y1="679.01" x2="551.2" y2="685.68" stroke="#383838" stroke-width="1.0"/>
<circle cx="449.3" cy="682.35" r="1.75" fill="none" stroke="#7c7c7c" stroke-width="0.8"/>
<path d="M547 682.35L549 680.25L551 682.35L549 684.45Z" fill="#f00000" stroke="#1a0000" stroke-width="0.8"/>
<path d="M431.5 691.91H518M585.4 691.91H604.7M431.5 689.72V694.11M604.7 689.72V694.11" stroke="#474747" stroke-width="1.35" fill="none"/>
<rect x="518" y="688.58" width="67.4" height="6.67" fill="#f088f0" stroke="#383838" stroke-width="1.1"/>
<line x1="556.3" y1="688.58" x2="556.3" y2="695.25" stroke="#383838" stroke-width="1.0"/>
<path d="M541.6 691.91L543.6 689.81L545.6 691.91L543.6 694.01Z" fill="#f00000" stroke="#1a0000" stroke-width="0.8"/>
<path d="M422.8 701.48H515.3M577.2 701.48H635.7M422.8 699.29V703.67M635.7 699.29V703.67" stroke="#474747" stroke-width="1.35" fill="none"/>
<rect x="515.3" y="698.15" width="61.9" height="6.67" fill="#f888c8" stroke="#383838" stroke-width="1.1"/>
<line x1="547.2" y1="698.15" x2="547.2" y2="704.82" stroke="#383838" stroke-width="1.0"/>
<circle cx="389.8" cy="701.48" r="1.75" fill="none" stroke="#7c7c7c" stroke-width="0.8"/>
<circle cx="394.7" cy="701.48" r="1.75" fill="none" stroke="#7c7c7c" stroke-width="0.8"/>
<circle cx="401.9" cy="701.48" r="1.75" fill="none" stroke="#7c7c7c" stroke-width="0.8"/>
<circle cx="413.5" cy="701.48" r="1.75" fill="none" stroke="#7c7c7c" stroke-width="0.8"/>
<circle cx="415.3" cy="701.48" r="1.75" fill="none" stroke="#7c7c7c" stroke-width="0.8"/>
<circle cx="419.5" cy="701.48" r="1.75" fill="none" stroke="#7c7c7c" stroke-width="0.8"/>
<circle cx="421.7" cy="701.48" r="1.75" fill="none" stroke="#7c7c7c" stroke-width="0.8"/>
<path d="M541.1 701.48L543.1 699.38L545.1 701.48L543.1 703.58Z" fill="#f00000" stroke="#1a0000" stroke-width="0.8"/>
<path d="M440.5 711.05H510.5M586.2 711.05H606.2M440.5 708.86V713.24M606.2 708.86V713.24" stroke="#474747" stroke-width="1.35" fill="none"/>
<rect x="510.5" y="707.71" width="75.7" height="6.67" fill="#f890b0" stroke="#383838" stroke-width="1.1"/>
<line x1="547.2" y1="707.71" x2="547.2" y2="714.38" stroke="#383838" stroke-width="1.0"/>
<path d="M537.6 711.05L539.6 708.95L541.6 711.05L539.6 713.15Z" fill="#f00000" stroke="#1a0000" stroke-width="0.8"/>
<rect x="376.7" y="515.4" width="289.6" height="200.1" fill="none" stroke="#555555" stroke-width="1.0"/>
<line x1="370.7" y1="519.7" x2="376.7" y2="519.7" stroke="#555555" stroke-width="1"/>
<text x="367.9" y="522.7" text-anchor="end" font-size="8.7" fill="#111">bare</text>
<line x1="370.7" y1="529.27" x2="376.7" y2="529.27" stroke="#555555" stroke-width="1"/>
<text x="367.9" y="532.27" text-anchor="end" font-size="8.7" fill="#111">F</text>
<line x1="370.7" y1="538.84" x2="376.7" y2="538.84" stroke="#555555" stroke-width="1"/>
<text x="367.9" y="541.84" text-anchor="end" font-size="8.7" fill="#111">OH</text>
<line x1="370.7" y1="548.4" x2="376.7" y2="548.4" stroke="#555555" stroke-width="1"/>
<text x="367.9" y="551.4" text-anchor="end" font-size="8.7" fill="#111">Me</text>
<line x1="370.7" y1="557.97" x2="376.7" y2="557.97" stroke="#555555" stroke-width="1"/>
<text x="367.9" y="560.97" text-anchor="end" font-size="8.7" fill="#111">NH2</text>
<line x1="370.7" y1="567.54" x2="376.7" y2="567.54" stroke="#555555" stroke-width="1"/>
<text x="367.9" y="570.54" text-anchor="end" font-size="8.7" fill="#111">Cl</text>
<line x1="370.7" y1="577.11" x2="376.7" y2="577.11" stroke="#555555" stroke-width="1"/>
<text x="367.9" y="580.11" text-anchor="end" font-size="8.7" fill="#111">HCO</text>
<line x1="370.7" y1="586.67" x2="376.7" y2="586.67" stroke="#555555" stroke-width="1"/>
<text x="367.9" y="589.67" text-anchor="end" font-size="8.7" fill="#111">CN</text>
<line x1="370.7" y1="596.24" x2="376.7" y2="596.24" stroke="#555555" stroke-width="1"/>
<text x="367.9" y="599.24" text-anchor="end" font-size="8.7" fill="#111">OMe</text>
<line x1="370.7" y1="605.81" x2="376.7" y2="605.81" stroke="#555555" stroke-width="1"/>
<text x="367.9" y="608.81" text-anchor="end" font-size="8.7" fill="#111">NHMe</text>
<line x1="370.7" y1="615.38" x2="376.7" y2="615.38" stroke="#555555" stroke-width="1"/>
<text x="367.9" y="618.38" text-anchor="end" font-size="8.7" fill="#111">Br</text>
<line x1="370.7" y1="624.94" x2="376.7" y2="624.94" stroke="#555555" stroke-width="1"/>
<text x="367.9" y="627.94" text-anchor="end" font-size="8.7" fill="#111">NO2</text>
<line x1="370.7" y1="634.51" x2="376.7" y2="634.51" stroke="#555555" stroke-width="1"/>
<text x="367.9" y="637.51" text-anchor="end" font-size="8.7" fill="#111">Et</text>
<line x1="370.7" y1="644.08" x2="376.7" y2="644.08" stroke="#555555" stroke-width="1"/>
<text x="367.9" y="647.08" text-anchor="end" font-size="8.7" fill="#111">COOH</text>
<line x1="370.7" y1="653.64" x2="376.7" y2="653.64" stroke="#555555" stroke-width="1"/>
<text x="367.9" y="656.64" text-anchor="end" font-size="8.7" fill="#111">I</text>
<line x1="370.7" y1="663.21" x2="376.7" y2="663.21" stroke="#555555" stroke-width="1"/>
<text x="367.9" y="666.21" text-anchor="end" font-size="8.7" fill="#111">OEt</text>
<line x1="370.7" y1="672.78" x2="376.7" y2="672.78" stroke="#555555" stroke-width="1"/>
<text x="367.9" y="675.78" text-anchor="end" font-size="8.7" fill="#111">SO3H</text>
<line x1="370.7" y1="682.35" x2="376.7" y2="682.35" stroke="#555555" stroke-width="1"/>
<text x="367.9" y="685.35" text-anchor="end" font-size="8.7" fill="#111">Ph</text>
<line x1="370.7" y1="691.91" x2="376.7" y2="691.91" stroke="#555555" stroke-width="1"/>
<text x="367.9" y="694.91" text-anchor="end" font-size="8.7" fill="#111">OPr</text>
<line x1="370.7" y1="701.48" x2="376.7" y2="701.48" stroke="#555555" stroke-width="1"/>
<text x="367.9" y="704.48" text-anchor="end" font-size="8.7" fill="#111">mixed</text>
<line x1="370.7" y1="711.05" x2="376.7" y2="711.05" stroke="#555555" stroke-width="1"/>
<text x="367.9" y="714.05" text-anchor="end" font-size="8.7" fill="#111">Pr</text>
<line x1="424.7" y1="715.5" x2="424.7" y2="721" stroke="#555555" stroke-width="1"/>
<text x="424.7" y="732.5" text-anchor="middle" font-size="11.6" fill="#111">0.3</text>
<line x1="476.2" y1="715.5" x2="476.2" y2="721" stroke="#555555" stroke-width="1"/>
<text x="476.2" y="732.5" text-anchor="middle" font-size="11.6" fill="#111">0.4</text>
<line x1="527.7" y1="715.5" x2="527.7" y2="721" stroke="#555555" stroke-width="1"/>
<text x="527.7" y="732.5" text-anchor="middle" font-size="11.6" fill="#111">0.5</text>
<line x1="579.2" y1="715.5" x2="579.2" y2="721" stroke="#555555" stroke-width="1"/>
<text x="579.2" y="732.5" text-anchor="middle" font-size="11.6" fill="#111">0.6</text>
<line x1="630.7" y1="715.5" x2="630.7" y2="721" stroke="#555555" stroke-width="1"/>
<text x="630.7" y="732.5" text-anchor="middle" font-size="11.6" fill="#111">0.7</text>
<text x="496.2" y="751" font-weight="bold" font-size="14.6" fill="#111">Void Fr.</text>
</svg></body></html>
